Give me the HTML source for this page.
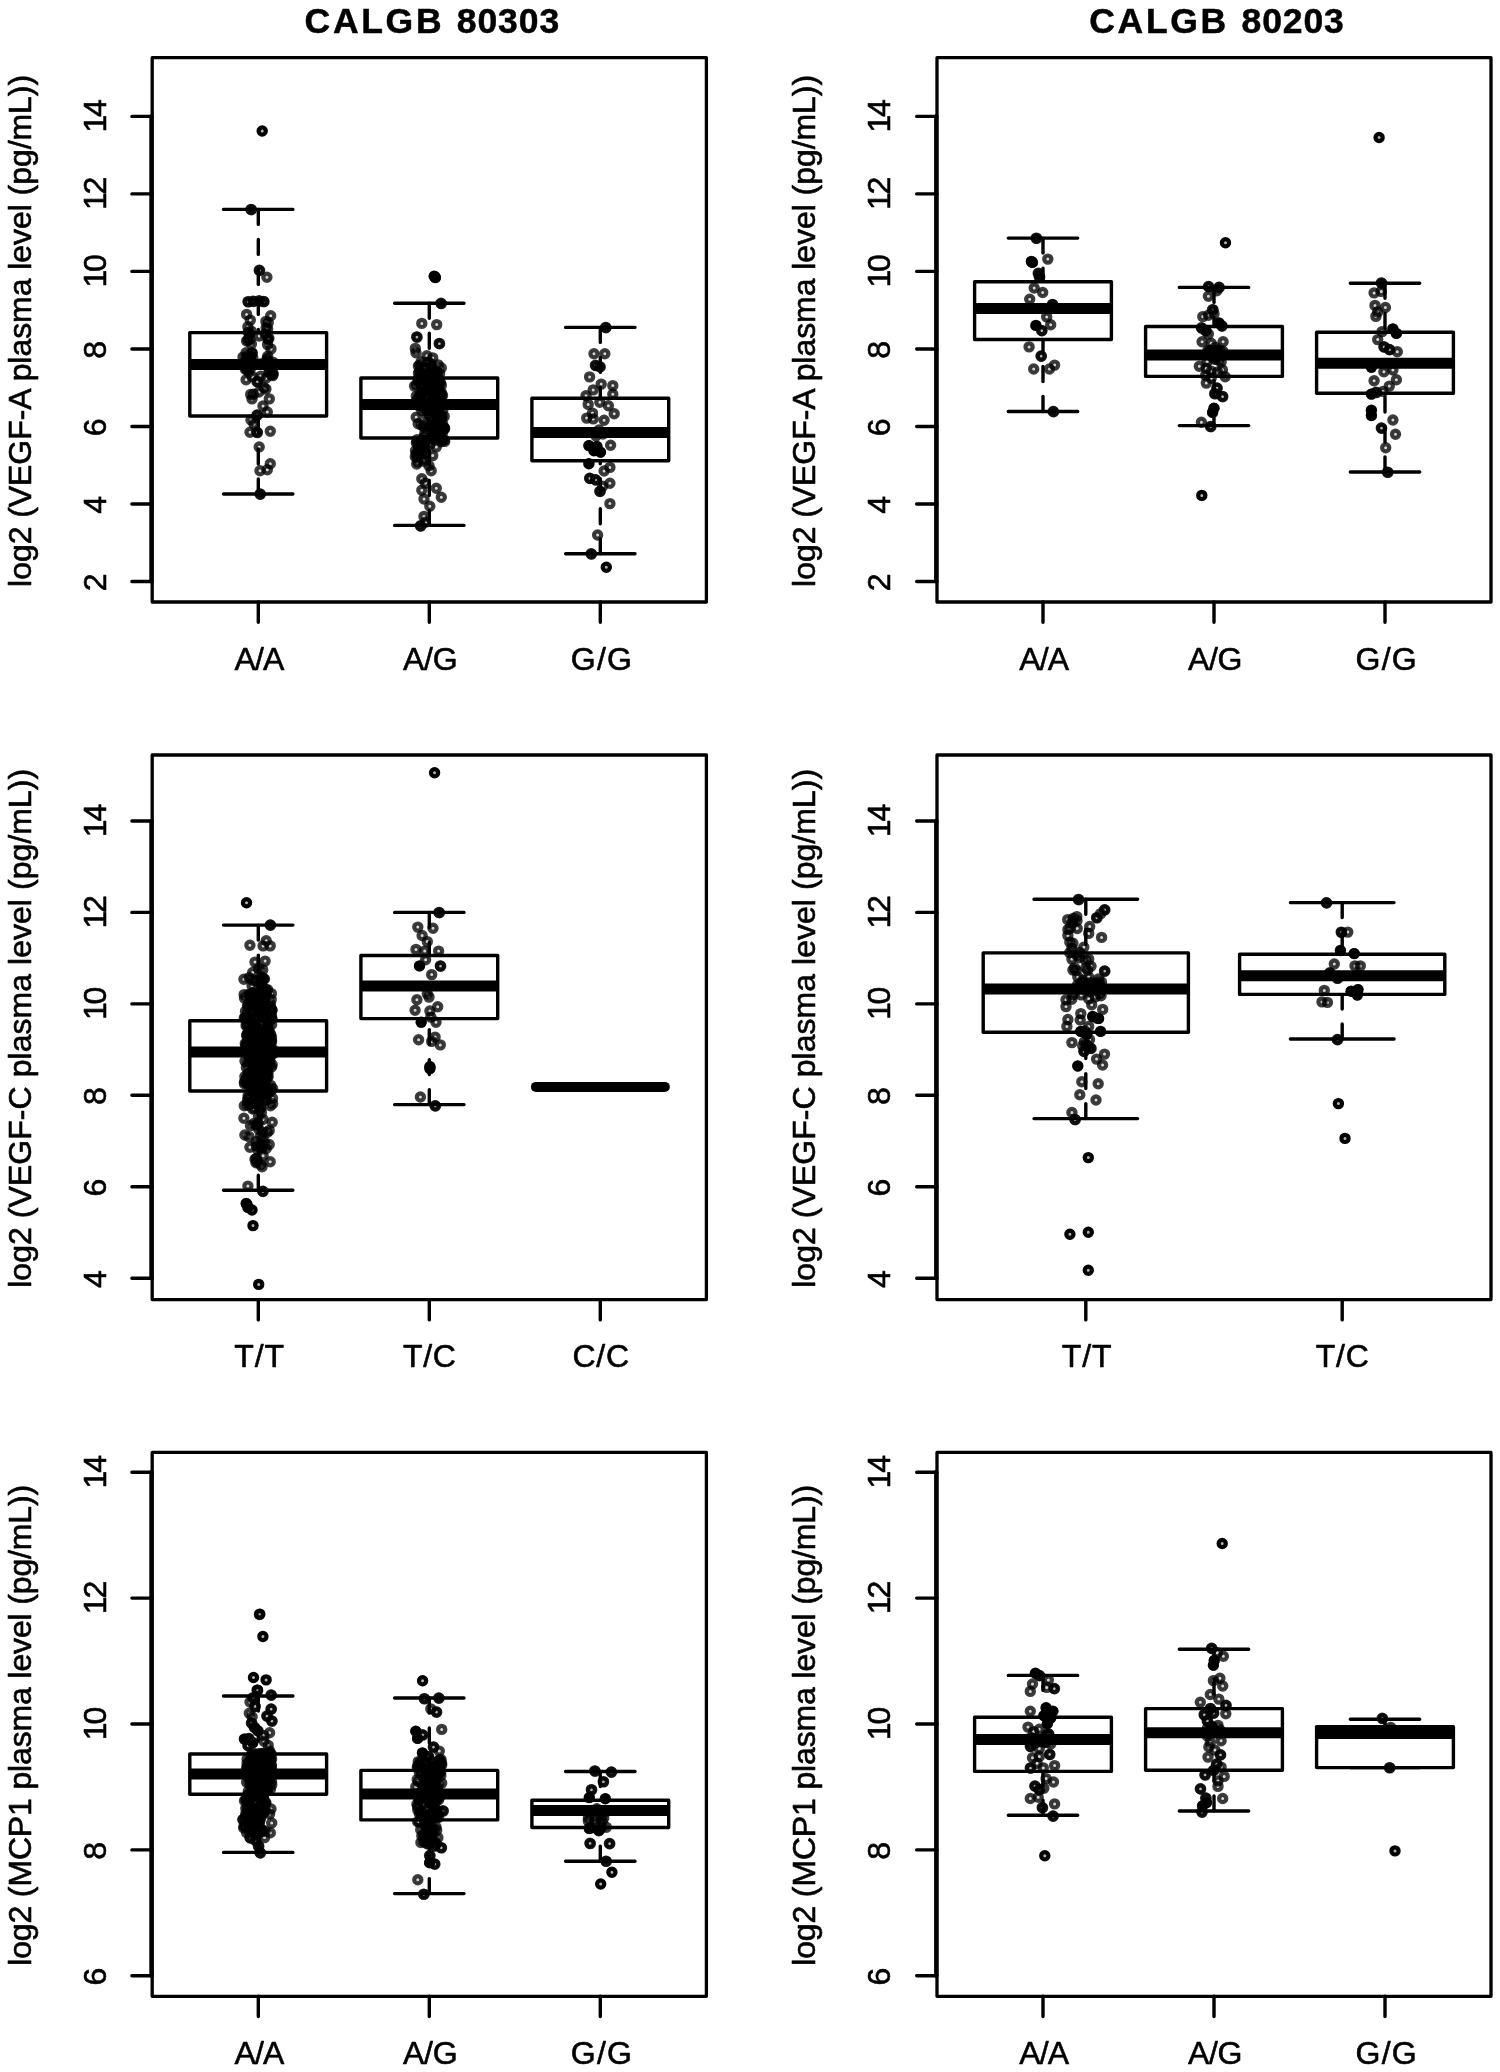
<!DOCTYPE html>
<html><head><meta charset="utf-8"><title>CALGB boxplots</title>
<style>
html,body{margin:0;padding:0;background:#fff;}
body{width:1500px;height:2072px;overflow:hidden;font-family:"Liberation Sans",sans-serif;}
svg{display:block;}
</style></head><body>
<svg width="1500" height="2072" viewBox="0 0 1500 2072">
<defs><filter id="b" x="0" y="0" width="1500" height="2072" filterUnits="userSpaceOnUse"><feGaussianBlur stdDeviation="0.78"/></filter></defs>
<rect width="1500" height="2072" fill="#fff"/>
<g filter="url(#b)">
<g font-family="Liberation Sans, sans-serif" font-size="32" fill="#000" stroke="#000" stroke-width="0.6" stroke-linejoin="round">
<text x="432.3" y="33.2" text-anchor="middle" font-weight="bold" font-size="35.5" stroke-width="0.5"><tspan letter-spacing="2.7">CALGB </tspan><tspan letter-spacing="0.9">80303</tspan></text>
<text transform="translate(30.6,330.9) rotate(-90)" text-anchor="middle" textLength="512" lengthAdjust="spacing">log2 (VEGF-A plasma level (pg/mL))</text>
<text transform="translate(105.6,582.4) rotate(-90)" text-anchor="middle">2</text>
<text transform="translate(105.6,504.9) rotate(-90)" text-anchor="middle">4</text>
<text transform="translate(105.6,427.4) rotate(-90)" text-anchor="middle">6</text>
<text transform="translate(105.6,349.9) rotate(-90)" text-anchor="middle">8</text>
<text transform="translate(105.6,271.9) rotate(-90)" text-anchor="middle" letter-spacing="-2.1">10</text>
<text transform="translate(105.6,194.4) rotate(-90)" text-anchor="middle" letter-spacing="-2.1">12</text>
<text transform="translate(105.6,116.9) rotate(-90)" text-anchor="middle" letter-spacing="-2.1">14</text>
<text x="259.0" y="669.8" text-anchor="middle" letter-spacing="-0.9">A/A</text>
<text x="430.2" y="669.8" text-anchor="middle" letter-spacing="-0.3">A/G</text>
<text x="602.0" y="669.8" text-anchor="middle" letter-spacing="1.2">G/G</text>
<text x="1217.0" y="33.2" text-anchor="middle" font-weight="bold" font-size="35.5" stroke-width="0.5"><tspan letter-spacing="2.7">CALGB </tspan><tspan letter-spacing="0.9">80203</tspan></text>
<text transform="translate(815.4,330.9) rotate(-90)" text-anchor="middle" textLength="512" lengthAdjust="spacing">log2 (VEGF-A plasma level (pg/mL))</text>
<text transform="translate(890.4,582.4) rotate(-90)" text-anchor="middle">2</text>
<text transform="translate(890.4,504.9) rotate(-90)" text-anchor="middle">4</text>
<text transform="translate(890.4,427.4) rotate(-90)" text-anchor="middle">6</text>
<text transform="translate(890.4,349.9) rotate(-90)" text-anchor="middle">8</text>
<text transform="translate(890.4,271.9) rotate(-90)" text-anchor="middle" letter-spacing="-2.1">10</text>
<text transform="translate(890.4,194.4) rotate(-90)" text-anchor="middle" letter-spacing="-2.1">12</text>
<text transform="translate(890.4,116.9) rotate(-90)" text-anchor="middle" letter-spacing="-2.1">14</text>
<text x="1043.8" y="669.8" text-anchor="middle" letter-spacing="-0.9">A/A</text>
<text x="1215.0" y="669.8" text-anchor="middle" letter-spacing="-0.3">A/G</text>
<text x="1386.7" y="669.8" text-anchor="middle" letter-spacing="1.2">G/G</text>
<text transform="translate(30.6,1028.3) rotate(-90)" text-anchor="middle" textLength="519" lengthAdjust="spacing">log2 (VEGF-C plasma level (pg/mL))</text>
<text transform="translate(105.6,1279.1) rotate(-90)" text-anchor="middle">4</text>
<text transform="translate(105.6,1187.7) rotate(-90)" text-anchor="middle">6</text>
<text transform="translate(105.6,1096.2) rotate(-90)" text-anchor="middle">8</text>
<text transform="translate(105.6,1004.4) rotate(-90)" text-anchor="middle" letter-spacing="-2.1">10</text>
<text transform="translate(105.6,912.9) rotate(-90)" text-anchor="middle" letter-spacing="-2.1">12</text>
<text transform="translate(105.6,821.5) rotate(-90)" text-anchor="middle" letter-spacing="-2.1">14</text>
<text x="259.6" y="1367.4" text-anchor="middle" letter-spacing="0.9">T/T</text>
<text x="429.8" y="1367.4" text-anchor="middle" letter-spacing="0.7">T/C</text>
<text x="601.2" y="1367.4" text-anchor="middle" letter-spacing="0.8">C/C</text>
<text transform="translate(815.4,1028.3) rotate(-90)" text-anchor="middle" textLength="519" lengthAdjust="spacing">log2 (VEGF-C plasma level (pg/mL))</text>
<text transform="translate(890.4,1279.1) rotate(-90)" text-anchor="middle">4</text>
<text transform="translate(890.4,1187.7) rotate(-90)" text-anchor="middle">6</text>
<text transform="translate(890.4,1096.2) rotate(-90)" text-anchor="middle">8</text>
<text transform="translate(890.4,1004.4) rotate(-90)" text-anchor="middle" letter-spacing="-2.1">10</text>
<text transform="translate(890.4,912.9) rotate(-90)" text-anchor="middle" letter-spacing="-2.1">12</text>
<text transform="translate(890.4,821.5) rotate(-90)" text-anchor="middle" letter-spacing="-2.1">14</text>
<text x="1087.1" y="1367.4" text-anchor="middle" letter-spacing="0.9">T/T</text>
<text x="1342.7" y="1367.4" text-anchor="middle" letter-spacing="0.7">T/C</text>
<text transform="translate(30.6,1725.3) rotate(-90)" text-anchor="middle" textLength="481" lengthAdjust="spacing">log2 (MCP1 plasma level (pg/mL))</text>
<text transform="translate(105.6,1976.7) rotate(-90)" text-anchor="middle">6</text>
<text transform="translate(105.6,1850.8) rotate(-90)" text-anchor="middle">8</text>
<text transform="translate(105.6,1724.5) rotate(-90)" text-anchor="middle" letter-spacing="-2.1">10</text>
<text transform="translate(105.6,1598.6) rotate(-90)" text-anchor="middle" letter-spacing="-2.1">12</text>
<text transform="translate(105.6,1472.7) rotate(-90)" text-anchor="middle" letter-spacing="-2.1">14</text>
<text x="259.0" y="2064.1" text-anchor="middle" letter-spacing="-0.9">A/A</text>
<text x="430.2" y="2064.1" text-anchor="middle" letter-spacing="-0.3">A/G</text>
<text x="602.0" y="2064.1" text-anchor="middle" letter-spacing="1.2">G/G</text>
<text transform="translate(815.4,1725.3) rotate(-90)" text-anchor="middle" textLength="481" lengthAdjust="spacing">log2 (MCP1 plasma level (pg/mL))</text>
<text transform="translate(890.4,1976.7) rotate(-90)" text-anchor="middle">6</text>
<text transform="translate(890.4,1850.8) rotate(-90)" text-anchor="middle">8</text>
<text transform="translate(890.4,1724.5) rotate(-90)" text-anchor="middle" letter-spacing="-2.1">10</text>
<text transform="translate(890.4,1598.6) rotate(-90)" text-anchor="middle" letter-spacing="-2.1">12</text>
<text transform="translate(890.4,1472.7) rotate(-90)" text-anchor="middle" letter-spacing="-2.1">14</text>
<text x="1043.8" y="2064.1" text-anchor="middle" letter-spacing="-0.9">A/A</text>
<text x="1215.0" y="2064.1" text-anchor="middle" letter-spacing="-0.3">A/G</text>
<text x="1386.7" y="2064.1" text-anchor="middle" letter-spacing="1.2">G/G</text>
</g>
<g fill="none" stroke="#000" stroke-width="3.4" stroke-linecap="round" stroke-linejoin="round">
<rect x="152.2" y="57.7" width="554.2" height="544.3" stroke-width="3.3"/>
<path d="M152.2 581.5h-20.3M152.2 504.0h-20.3M152.2 426.5h-20.3M152.2 349.0h-20.3M152.2 271.4h-20.3M152.2 193.9h-20.3M152.2 116.4h-20.3M258.3 602.0v20.3M429.3 602.0v20.3M600.3 602.0v20.3" stroke-width="3.4"/>
<path d="M151.4 116.4V581.5" stroke-width="4.2"/>
<path d="M258.3 209.4V332.6M258.3 494.0V416.0" stroke-dasharray="15 15"/>
<path d="M223.5 209.4h69.4M223.5 494.0h69.4"/>
<rect x="189.8" y="332.6" width="136.8" height="83.4" fill="#fff"/>
<path d="M189.8 364.4h136.8" stroke-width="11.0" stroke-linecap="butt"/>
<path d="M429.3 303.3V378.0M429.3 525.4V438.0" stroke-dasharray="15 15"/>
<path d="M394.6 303.3h69.4M394.6 525.4h69.4"/>
<rect x="360.9" y="378.0" width="136.8" height="60.0" fill="#fff"/>
<path d="M360.9 404.6h136.8" stroke-width="11.0" stroke-linecap="butt"/>
<path d="M600.3 327.4V398.3M600.3 553.8V460.8" stroke-dasharray="15 15"/>
<path d="M565.6 327.4h69.4M565.6 553.8h69.4"/>
<rect x="531.9" y="398.3" width="136.8" height="62.5" fill="#fff"/>
<path d="M531.9 432.6h136.8" stroke-width="11.0" stroke-linecap="butt"/>
<rect x="937.0" y="57.7" width="554.0" height="544.3" stroke-width="3.3"/>
<path d="M937.0 581.5h-20.3M937.0 504.0h-20.3M937.0 426.5h-20.3M937.0 349.0h-20.3M937.0 271.4h-20.3M937.0 193.9h-20.3M937.0 116.4h-20.3M1043.0 602.0v20.3M1214.0 602.0v20.3M1385.0 602.0v20.3" stroke-width="3.4"/>
<path d="M936.2 116.4V581.5" stroke-width="4.2"/>
<path d="M1043.0 238.1V281.8M1043.0 411.5V339.5" stroke-dasharray="15 15"/>
<path d="M1008.3 238.1h69.4M1008.3 411.5h69.4"/>
<rect x="974.6" y="281.8" width="136.8" height="57.7" fill="#fff"/>
<path d="M974.6 308.5h136.8" stroke-width="11.0" stroke-linecap="butt"/>
<path d="M1214.0 287.4V326.5M1214.0 425.6V376.4" stroke-dasharray="15 15"/>
<path d="M1179.3 287.4h69.4M1179.3 425.6h69.4"/>
<rect x="1145.6" y="326.5" width="136.8" height="49.9" fill="#fff"/>
<path d="M1145.6 355.0h136.8" stroke-width="11.0" stroke-linecap="butt"/>
<path d="M1385.0 283.2V332.3M1385.0 472.0V393.3" stroke-dasharray="15 15"/>
<path d="M1350.3 283.2h69.4M1350.3 472.0h69.4"/>
<rect x="1316.6" y="332.3" width="136.8" height="61.0" fill="#fff"/>
<path d="M1316.6 363.3h136.8" stroke-width="11.0" stroke-linecap="butt"/>
<rect x="152.2" y="755.0" width="554.2" height="544.6" stroke-width="3.3"/>
<path d="M152.2 1278.2h-20.3M152.2 1186.8h-20.3M152.2 1095.3h-20.3M152.2 1003.9h-20.3M152.2 912.4h-20.3M152.2 821.0h-20.3M258.3 1299.6v20.3M429.3 1299.6v20.3M600.3 1299.6v20.3" stroke-width="3.4"/>
<path d="M151.4 821.0V1278.2" stroke-width="4.2"/>
<path d="M258.3 925.1V1020.8M258.3 1190.2V1091.0" stroke-dasharray="15 15"/>
<path d="M223.5 925.1h69.4M223.5 1190.2h69.4"/>
<rect x="189.8" y="1020.8" width="136.8" height="70.2" fill="#fff"/>
<path d="M189.8 1052.0h136.8" stroke-width="11.0" stroke-linecap="butt"/>
<path d="M429.3 912.4V955.5M429.3 1104.6V1018.6" stroke-dasharray="15 15"/>
<path d="M394.6 912.4h69.4M394.6 1104.6h69.4"/>
<rect x="360.9" y="955.5" width="136.8" height="63.1" fill="#fff"/>
<path d="M360.9 985.9h136.8" stroke-width="11.0" stroke-linecap="butt"/>
<path d="M535.9 1086.9H664.8" stroke-width="10"/>
<rect x="937.0" y="755.0" width="554.0" height="544.6" stroke-width="3.3"/>
<path d="M937.0 1278.2h-20.3M937.0 1186.8h-20.3M937.0 1095.3h-20.3M937.0 1003.9h-20.3M937.0 912.4h-20.3M937.0 821.0h-20.3M1085.8 1299.6v20.3M1342.2 1299.6v20.3" stroke-width="3.4"/>
<path d="M936.2 821.0V1278.2" stroke-width="4.2"/>
<path d="M1085.8 899.3V952.9M1085.8 1118.6V1032.2" stroke-dasharray="15 15"/>
<path d="M1034.0 899.3h103.6M1034.0 1118.6h103.6"/>
<rect x="983.2" y="952.9" width="205.2" height="79.3" fill="#fff"/>
<path d="M983.2 988.9h205.2" stroke-width="11.0" stroke-linecap="butt"/>
<path d="M1342.2 902.6V954.2M1342.2 1039.0V994.4" stroke-dasharray="15 15"/>
<path d="M1290.4 902.6h103.6M1290.4 1039.0h103.6"/>
<rect x="1239.6" y="954.2" width="205.2" height="40.2" fill="#fff"/>
<path d="M1239.6 975.8h205.2" stroke-width="11.0" stroke-linecap="butt"/>
<rect x="152.2" y="1452.4" width="554.2" height="543.9" stroke-width="3.3"/>
<path d="M152.2 1975.8h-20.3M152.2 1849.9h-20.3M152.2 1724.0h-20.3M152.2 1598.1h-20.3M152.2 1472.2h-20.3M258.3 1996.3v20.3M429.3 1996.3v20.3M600.3 1996.3v20.3" stroke-width="3.4"/>
<path d="M151.4 1472.2V1975.8" stroke-width="4.2"/>
<path d="M258.3 1696.0V1754.0M258.3 1852.4V1794.3" stroke-dasharray="15 15"/>
<path d="M223.5 1696.0h69.4M223.5 1852.4h69.4"/>
<rect x="189.8" y="1754.0" width="136.8" height="40.3" fill="#fff"/>
<path d="M189.8 1774.0h136.8" stroke-width="11.0" stroke-linecap="butt"/>
<path d="M429.3 1698.0V1770.4M429.3 1893.6V1819.9" stroke-dasharray="15 15"/>
<path d="M394.6 1698.0h69.4M394.6 1893.6h69.4"/>
<rect x="360.9" y="1770.4" width="136.8" height="49.5" fill="#fff"/>
<path d="M360.9 1793.9h136.8" stroke-width="11.0" stroke-linecap="butt"/>
<path d="M600.3 1771.5V1800.3M600.3 1861.2V1827.5" stroke-dasharray="15 15"/>
<path d="M565.6 1771.5h69.4M565.6 1861.2h69.4"/>
<rect x="531.9" y="1800.3" width="136.8" height="27.2" fill="#fff"/>
<path d="M531.9 1810.6h136.8" stroke-width="11.0" stroke-linecap="butt"/>
<rect x="937.0" y="1452.4" width="554.0" height="543.9" stroke-width="3.3"/>
<path d="M937.0 1975.8h-20.3M937.0 1849.9h-20.3M937.0 1724.0h-20.3M937.0 1598.1h-20.3M937.0 1472.2h-20.3M1043.0 1996.3v20.3M1214.0 1996.3v20.3M1385.0 1996.3v20.3" stroke-width="3.4"/>
<path d="M936.2 1472.2V1975.8" stroke-width="4.2"/>
<path d="M1043.0 1675.4V1717.3M1043.0 1815.3V1771.4" stroke-dasharray="15 15"/>
<path d="M1008.3 1675.4h69.4M1008.3 1815.3h69.4"/>
<rect x="974.6" y="1717.3" width="136.8" height="54.1" fill="#fff"/>
<path d="M974.6 1739.4h136.8" stroke-width="11.0" stroke-linecap="butt"/>
<path d="M1214.0 1649.3V1708.6M1214.0 1811.0V1770.3" stroke-dasharray="15 15"/>
<path d="M1179.3 1649.3h69.4M1179.3 1811.0h69.4"/>
<rect x="1145.6" y="1708.6" width="136.8" height="61.7" fill="#fff"/>
<path d="M1145.6 1732.7h136.8" stroke-width="11.0" stroke-linecap="butt"/>
<path d="M1385.0 1719.2V1726.8M1385.0 1767.6V1767.6" stroke-dasharray="15 15"/>
<path d="M1350.3 1719.2h69.4M1350.3 1767.6h69.4"/>
<rect x="1316.6" y="1726.8" width="136.8" height="40.8" fill="#fff"/>
<path d="M1316.6 1733.6h136.8" stroke-width="11.0" stroke-linecap="butt"/>
</g>
<g fill="rgba(0,0,0,0.16)" stroke="rgba(0,0,0,0.76)" stroke-width="4.2">
<circle cx="251.0" cy="209.4" r="3.6"/>
<circle cx="251.4" cy="209.7" r="3.6"/>
<circle cx="259.2" cy="270.2" r="3.6"/>
<circle cx="259.6" cy="270.5" r="3.6"/>
<circle cx="266.9" cy="277.3" r="3.6"/>
<circle cx="248.0" cy="301.6" r="3.6"/>
<circle cx="248.4" cy="301.9" r="3.6"/>
<circle cx="253.0" cy="301.2" r="3.6"/>
<circle cx="253.4" cy="301.5" r="3.6"/>
<circle cx="259.0" cy="300.8" r="3.6"/>
<circle cx="259.4" cy="301.1" r="3.6"/>
<circle cx="263.6" cy="301.4" r="3.6"/>
<circle cx="264.0" cy="301.7" r="3.6"/>
<circle cx="246.6" cy="314.4" r="3.6"/>
<circle cx="270.7" cy="315.8" r="3.6"/>
<circle cx="259.2" cy="336.0" r="3.6"/>
<circle cx="246.6" cy="341.0" r="3.6"/>
<circle cx="257.0" cy="381.7" r="3.6"/>
<circle cx="264.0" cy="387.7" r="3.6"/>
<circle cx="259.0" cy="392.0" r="3.6"/>
<circle cx="252.0" cy="398.9" r="3.6"/>
<circle cx="269.3" cy="398.9" r="3.6"/>
<circle cx="263.0" cy="406.0" r="3.6"/>
<circle cx="267.3" cy="412.0" r="3.6"/>
<circle cx="257.0" cy="415.0" r="3.6"/>
<circle cx="257.4" cy="415.3" r="3.6"/>
<circle cx="251.0" cy="420.0" r="3.6"/>
<circle cx="254.0" cy="424.0" r="3.6"/>
<circle cx="250.0" cy="432.3" r="3.6"/>
<circle cx="257.0" cy="432.3" r="3.6"/>
<circle cx="257.4" cy="432.6" r="3.6"/>
<circle cx="270.3" cy="431.3" r="3.6"/>
<circle cx="259.2" cy="447.0" r="3.6"/>
<circle cx="270.3" cy="463.7" r="3.6"/>
<circle cx="267.3" cy="469.8" r="3.6"/>
<circle cx="260.0" cy="470.8" r="3.6"/>
<circle cx="260.0" cy="494.0" r="3.6"/>
<circle cx="260.4" cy="494.3" r="3.6"/>
<circle cx="249.3" cy="333.6" r="3.6"/>
<circle cx="251.2" cy="331.1" r="3.6"/>
<circle cx="249.5" cy="334.3" r="3.6"/>
<circle cx="248.2" cy="332.3" r="3.6"/>
<circle cx="250.0" cy="339.6" r="3.6"/>
<circle cx="247.9" cy="326.9" r="3.6"/>
<circle cx="247.9" cy="340.1" r="3.6"/>
<circle cx="250.3" cy="320.1" r="3.6"/>
<circle cx="251.4" cy="344.1" r="3.6"/>
<circle cx="268.9" cy="338.2" r="3.6"/>
<circle cx="265.9" cy="321.4" r="3.6"/>
<circle cx="268.2" cy="322.7" r="3.6"/>
<circle cx="266.1" cy="327.8" r="3.6"/>
<circle cx="265.2" cy="334.0" r="3.6"/>
<circle cx="267.6" cy="344.6" r="3.6"/>
<circle cx="268.1" cy="338.9" r="3.6"/>
<circle cx="268.0" cy="339.5" r="3.6"/>
<circle cx="267.7" cy="328.8" r="3.6"/>
<circle cx="271.0" cy="348.9" r="3.6"/>
<circle cx="269.0" cy="371.5" r="3.6"/>
<circle cx="252.8" cy="357.7" r="3.6"/>
<circle cx="252.0" cy="353.0" r="3.6"/>
<circle cx="266.8" cy="362.6" r="3.6"/>
<circle cx="269.2" cy="362.2" r="3.6"/>
<circle cx="272.7" cy="375.6" r="3.6"/>
<circle cx="243.0" cy="357.1" r="3.6"/>
<circle cx="271.2" cy="364.6" r="3.6"/>
<circle cx="273.4" cy="362.5" r="3.6"/>
<circle cx="245.3" cy="369.3" r="3.6"/>
<circle cx="267.1" cy="358.8" r="3.6"/>
<circle cx="245.7" cy="360.6" r="3.6"/>
<circle cx="272.9" cy="373.0" r="3.6"/>
<circle cx="246.7" cy="358.1" r="3.6"/>
<circle cx="246.1" cy="352.7" r="3.6"/>
<circle cx="267.7" cy="356.2" r="3.6"/>
<circle cx="260.3" cy="364.0" r="3.6"/>
<circle cx="248.9" cy="372.2" r="3.6"/>
<circle cx="247.1" cy="369.7" r="3.6"/>
<circle cx="246.6" cy="363.2" r="3.6"/>
<circle cx="249.6" cy="358.8" r="3.6"/>
<circle cx="273.1" cy="374.3" r="3.6"/>
<circle cx="252.4" cy="376.7" r="3.6"/>
<circle cx="249.5" cy="362.4" r="3.6"/>
<circle cx="269.5" cy="369.6" r="3.6"/>
<circle cx="246.1" cy="379.7" r="3.6"/>
<circle cx="249.6" cy="358.5" r="3.6"/>
<circle cx="267.0" cy="360.5" r="3.6"/>
<circle cx="252.2" cy="353.1" r="3.6"/>
<circle cx="245.8" cy="367.9" r="3.6"/>
<circle cx="250.5" cy="368.4" r="3.6"/>
<circle cx="254.5" cy="364.1" r="3.6"/>
<circle cx="272.7" cy="365.0" r="3.6"/>
<circle cx="260.8" cy="376.1" r="3.6"/>
<circle cx="248.7" cy="355.5" r="3.6"/>
<circle cx="271.2" cy="374.7" r="3.6"/>
<circle cx="250.7" cy="356.5" r="3.6"/>
<circle cx="265.9" cy="378.3" r="3.6"/>
<circle cx="253.5" cy="394.3" r="3.6"/>
<circle cx="265.9" cy="389.1" r="3.6"/>
<circle cx="257.6" cy="381.6" r="3.6"/>
<circle cx="250.7" cy="394.4" r="3.6"/>
<circle cx="434.2" cy="276.2" r="3.6"/>
<circle cx="435.4" cy="277.6" r="3.6"/>
<circle cx="440.9" cy="303.3" r="3.6"/>
<circle cx="441.3" cy="303.6" r="3.6"/>
<circle cx="421.8" cy="323.4" r="3.6"/>
<circle cx="436.7" cy="324.6" r="3.6"/>
<circle cx="416.7" cy="336.9" r="3.6"/>
<circle cx="417.1" cy="337.2" r="3.6"/>
<circle cx="439.2" cy="343.4" r="3.6"/>
<circle cx="439.6" cy="343.7" r="3.6"/>
<circle cx="415.3" cy="348.4" r="3.6"/>
<circle cx="416.0" cy="352.8" r="3.6"/>
<circle cx="426.9" cy="355.7" r="3.6"/>
<circle cx="432.7" cy="357.9" r="3.6"/>
<circle cx="441.3" cy="368.0" r="3.6"/>
<circle cx="414.6" cy="386.1" r="3.6"/>
<circle cx="441.3" cy="385.4" r="3.6"/>
<circle cx="441.3" cy="392.6" r="3.6"/>
<circle cx="418.2" cy="423.7" r="3.6"/>
<circle cx="424.7" cy="433.9" r="3.6"/>
<circle cx="441.3" cy="441.8" r="3.6"/>
<circle cx="436.3" cy="446.9" r="3.6"/>
<circle cx="429.8" cy="444.7" r="3.6"/>
<circle cx="432.7" cy="455.6" r="3.6"/>
<circle cx="429.0" cy="465.7" r="3.6"/>
<circle cx="431.2" cy="470.8" r="3.6"/>
<circle cx="421.8" cy="478.8" r="3.6"/>
<circle cx="425.4" cy="483.1" r="3.6"/>
<circle cx="421.8" cy="490.3" r="3.6"/>
<circle cx="436.3" cy="488.2" r="3.6"/>
<circle cx="424.0" cy="499.0" r="3.6"/>
<circle cx="441.3" cy="497.3" r="3.6"/>
<circle cx="429.8" cy="506.3" r="3.6"/>
<circle cx="424.0" cy="516.4" r="3.6"/>
<circle cx="425.4" cy="522.2" r="3.6"/>
<circle cx="420.4" cy="525.8" r="3.6"/>
<circle cx="420.8" cy="526.1" r="3.6"/>
<circle cx="423.2" cy="374.4" r="3.6"/>
<circle cx="423.7" cy="376.7" r="3.6"/>
<circle cx="431.1" cy="366.6" r="3.6"/>
<circle cx="421.9" cy="374.7" r="3.6"/>
<circle cx="419.5" cy="365.3" r="3.6"/>
<circle cx="430.3" cy="377.2" r="3.6"/>
<circle cx="431.5" cy="366.3" r="3.6"/>
<circle cx="438.2" cy="364.9" r="3.6"/>
<circle cx="418.4" cy="366.1" r="3.6"/>
<circle cx="427.8" cy="362.1" r="3.6"/>
<circle cx="421.9" cy="368.0" r="3.6"/>
<circle cx="430.6" cy="363.5" r="3.6"/>
<circle cx="426.0" cy="377.9" r="3.6"/>
<circle cx="439.6" cy="373.5" r="3.6"/>
<circle cx="433.2" cy="372.1" r="3.6"/>
<circle cx="421.1" cy="361.7" r="3.6"/>
<circle cx="418.4" cy="378.3" r="3.6"/>
<circle cx="433.4" cy="379.3" r="3.6"/>
<circle cx="418.5" cy="373.1" r="3.6"/>
<circle cx="428.6" cy="374.9" r="3.6"/>
<circle cx="425.0" cy="380.0" r="3.6"/>
<circle cx="419.7" cy="371.4" r="3.6"/>
<circle cx="434.2" cy="378.1" r="3.6"/>
<circle cx="434.2" cy="374.4" r="3.6"/>
<circle cx="435.5" cy="378.4" r="3.6"/>
<circle cx="425.7" cy="374.0" r="3.6"/>
<circle cx="437.8" cy="377.6" r="3.6"/>
<circle cx="427.2" cy="376.0" r="3.6"/>
<circle cx="437.0" cy="371.9" r="3.6"/>
<circle cx="431.7" cy="368.3" r="3.6"/>
<circle cx="431.7" cy="400.7" r="3.6"/>
<circle cx="418.2" cy="401.7" r="3.6"/>
<circle cx="442.8" cy="409.9" r="3.6"/>
<circle cx="435.7" cy="393.2" r="3.6"/>
<circle cx="435.8" cy="399.8" r="3.6"/>
<circle cx="427.9" cy="408.5" r="3.6"/>
<circle cx="418.3" cy="405.5" r="3.6"/>
<circle cx="416.8" cy="400.4" r="3.6"/>
<circle cx="429.0" cy="387.8" r="3.6"/>
<circle cx="434.9" cy="396.9" r="3.6"/>
<circle cx="432.6" cy="411.3" r="3.6"/>
<circle cx="422.9" cy="380.4" r="3.6"/>
<circle cx="424.1" cy="403.1" r="3.6"/>
<circle cx="421.5" cy="385.8" r="3.6"/>
<circle cx="440.5" cy="402.4" r="3.6"/>
<circle cx="427.9" cy="410.3" r="3.6"/>
<circle cx="424.8" cy="402.6" r="3.6"/>
<circle cx="421.4" cy="394.7" r="3.6"/>
<circle cx="437.8" cy="411.1" r="3.6"/>
<circle cx="439.8" cy="393.1" r="3.6"/>
<circle cx="431.7" cy="390.8" r="3.6"/>
<circle cx="419.7" cy="396.9" r="3.6"/>
<circle cx="438.6" cy="408.9" r="3.6"/>
<circle cx="435.2" cy="412.3" r="3.6"/>
<circle cx="423.5" cy="385.8" r="3.6"/>
<circle cx="428.2" cy="389.4" r="3.6"/>
<circle cx="421.8" cy="394.1" r="3.6"/>
<circle cx="432.9" cy="396.8" r="3.6"/>
<circle cx="424.5" cy="408.5" r="3.6"/>
<circle cx="442.5" cy="395.4" r="3.6"/>
<circle cx="418.0" cy="381.1" r="3.6"/>
<circle cx="439.6" cy="381.4" r="3.6"/>
<circle cx="435.1" cy="399.4" r="3.6"/>
<circle cx="424.3" cy="406.9" r="3.6"/>
<circle cx="416.5" cy="384.6" r="3.6"/>
<circle cx="428.3" cy="380.8" r="3.6"/>
<circle cx="438.4" cy="388.1" r="3.6"/>
<circle cx="419.8" cy="381.6" r="3.6"/>
<circle cx="433.0" cy="395.2" r="3.6"/>
<circle cx="433.0" cy="402.3" r="3.6"/>
<circle cx="437.8" cy="412.6" r="3.6"/>
<circle cx="434.5" cy="386.8" r="3.6"/>
<circle cx="428.8" cy="386.1" r="3.6"/>
<circle cx="416.3" cy="396.1" r="3.6"/>
<circle cx="435.3" cy="386.1" r="3.6"/>
<circle cx="423.4" cy="391.8" r="3.6"/>
<circle cx="434.8" cy="397.7" r="3.6"/>
<circle cx="432.6" cy="405.7" r="3.6"/>
<circle cx="426.6" cy="406.9" r="3.6"/>
<circle cx="440.5" cy="383.0" r="3.6"/>
<circle cx="441.2" cy="404.6" r="3.6"/>
<circle cx="419.5" cy="395.4" r="3.6"/>
<circle cx="432.9" cy="410.9" r="3.6"/>
<circle cx="426.2" cy="399.3" r="3.6"/>
<circle cx="439.7" cy="407.1" r="3.6"/>
<circle cx="441.5" cy="395.8" r="3.6"/>
<circle cx="433.6" cy="387.0" r="3.6"/>
<circle cx="435.5" cy="407.8" r="3.6"/>
<circle cx="433.3" cy="404.4" r="3.6"/>
<circle cx="421.8" cy="410.6" r="3.6"/>
<circle cx="444.7" cy="441.4" r="3.6"/>
<circle cx="437.4" cy="436.1" r="3.6"/>
<circle cx="433.8" cy="439.5" r="3.6"/>
<circle cx="442.6" cy="423.8" r="3.6"/>
<circle cx="429.9" cy="426.3" r="3.6"/>
<circle cx="437.6" cy="435.5" r="3.6"/>
<circle cx="436.5" cy="414.8" r="3.6"/>
<circle cx="441.9" cy="415.8" r="3.6"/>
<circle cx="441.7" cy="418.8" r="3.6"/>
<circle cx="434.0" cy="436.1" r="3.6"/>
<circle cx="430.8" cy="418.2" r="3.6"/>
<circle cx="437.0" cy="434.3" r="3.6"/>
<circle cx="442.4" cy="433.3" r="3.6"/>
<circle cx="444.1" cy="427.8" r="3.6"/>
<circle cx="444.2" cy="416.4" r="3.6"/>
<circle cx="432.2" cy="428.7" r="3.6"/>
<circle cx="433.3" cy="434.4" r="3.6"/>
<circle cx="439.0" cy="428.6" r="3.6"/>
<circle cx="442.4" cy="429.7" r="3.6"/>
<circle cx="433.6" cy="424.7" r="3.6"/>
<circle cx="442.4" cy="439.2" r="3.6"/>
<circle cx="431.9" cy="437.8" r="3.6"/>
<circle cx="444.5" cy="428.7" r="3.6"/>
<circle cx="438.0" cy="419.6" r="3.6"/>
<circle cx="437.3" cy="428.1" r="3.6"/>
<circle cx="438.5" cy="414.8" r="3.6"/>
<circle cx="444.5" cy="428.4" r="3.6"/>
<circle cx="435.1" cy="436.4" r="3.6"/>
<circle cx="437.8" cy="427.7" r="3.6"/>
<circle cx="439.9" cy="415.8" r="3.6"/>
<circle cx="437.4" cy="425.6" r="3.6"/>
<circle cx="444.3" cy="439.9" r="3.6"/>
<circle cx="432.9" cy="427.2" r="3.6"/>
<circle cx="430.6" cy="426.1" r="3.6"/>
<circle cx="424.2" cy="461.3" r="3.6"/>
<circle cx="420.0" cy="445.6" r="3.6"/>
<circle cx="416.4" cy="453.7" r="3.6"/>
<circle cx="425.6" cy="440.5" r="3.6"/>
<circle cx="423.7" cy="437.6" r="3.6"/>
<circle cx="416.4" cy="443.1" r="3.6"/>
<circle cx="422.6" cy="445.7" r="3.6"/>
<circle cx="418.4" cy="453.7" r="3.6"/>
<circle cx="415.3" cy="456.7" r="3.6"/>
<circle cx="415.5" cy="450.8" r="3.6"/>
<circle cx="417.1" cy="442.3" r="3.6"/>
<circle cx="420.6" cy="448.8" r="3.6"/>
<circle cx="418.7" cy="448.2" r="3.6"/>
<circle cx="420.6" cy="441.3" r="3.6"/>
<circle cx="416.6" cy="454.0" r="3.6"/>
<circle cx="422.0" cy="451.3" r="3.6"/>
<circle cx="424.6" cy="453.5" r="3.6"/>
<circle cx="424.7" cy="443.3" r="3.6"/>
<circle cx="423.3" cy="458.9" r="3.6"/>
<circle cx="425.3" cy="445.5" r="3.6"/>
<circle cx="417.9" cy="461.9" r="3.6"/>
<circle cx="416.7" cy="464.0" r="3.6"/>
<circle cx="425.1" cy="440.6" r="3.6"/>
<circle cx="417.0" cy="456.6" r="3.6"/>
<circle cx="417.2" cy="439.6" r="3.6"/>
<circle cx="424.4" cy="448.4" r="3.6"/>
<circle cx="427.1" cy="416.0" r="3.6"/>
<circle cx="421.6" cy="425.0" r="3.6"/>
<circle cx="416.2" cy="417.2" r="3.6"/>
<circle cx="425.6" cy="428.6" r="3.6"/>
<circle cx="429.6" cy="415.8" r="3.6"/>
<circle cx="423.1" cy="426.1" r="3.6"/>
<circle cx="605.6" cy="327.4" r="3.6"/>
<circle cx="606.0" cy="327.7" r="3.6"/>
<circle cx="594.0" cy="353.7" r="3.6"/>
<circle cx="604.8" cy="353.7" r="3.6"/>
<circle cx="595.4" cy="365.3" r="3.6"/>
<circle cx="595.8" cy="365.6" r="3.6"/>
<circle cx="599.8" cy="366.7" r="3.6"/>
<circle cx="600.2" cy="367.0" r="3.6"/>
<circle cx="589.6" cy="376.9" r="3.6"/>
<circle cx="601.2" cy="384.1" r="3.6"/>
<circle cx="612.8" cy="385.6" r="3.6"/>
<circle cx="593.2" cy="389.9" r="3.6"/>
<circle cx="612.8" cy="394.2" r="3.6"/>
<circle cx="586.0" cy="395.7" r="3.6"/>
<circle cx="588.2" cy="404.4" r="3.6"/>
<circle cx="599.8" cy="402.2" r="3.6"/>
<circle cx="608.4" cy="405.8" r="3.6"/>
<circle cx="614.2" cy="413.8" r="3.6"/>
<circle cx="592.5" cy="413.1" r="3.6"/>
<circle cx="586.7" cy="418.1" r="3.6"/>
<circle cx="593.2" cy="418.9" r="3.6"/>
<circle cx="604.1" cy="420.3" r="3.6"/>
<circle cx="599.0" cy="430.0" r="3.6"/>
<circle cx="603.0" cy="434.0" r="3.6"/>
<circle cx="596.0" cy="436.0" r="3.6"/>
<circle cx="588.9" cy="445.6" r="3.6"/>
<circle cx="596.9" cy="446.4" r="3.6"/>
<circle cx="610.6" cy="445.2" r="3.6"/>
<circle cx="594.0" cy="450.7" r="3.6"/>
<circle cx="600.5" cy="452.2" r="3.6"/>
<circle cx="588.9" cy="463.7" r="3.6"/>
<circle cx="609.9" cy="467.4" r="3.6"/>
<circle cx="604.1" cy="471.0" r="3.6"/>
<circle cx="589.6" cy="478.2" r="3.6"/>
<circle cx="590.0" cy="478.5" r="3.6"/>
<circle cx="595.4" cy="479.7" r="3.6"/>
<circle cx="595.8" cy="480.0" r="3.6"/>
<circle cx="609.9" cy="483.3" r="3.6"/>
<circle cx="602.7" cy="486.2" r="3.6"/>
<circle cx="599.8" cy="491.2" r="3.6"/>
<circle cx="600.2" cy="491.5" r="3.6"/>
<circle cx="609.9" cy="503.6" r="3.6"/>
<circle cx="597.6" cy="535.0" r="3.6"/>
<circle cx="591.1" cy="553.8" r="3.6"/>
<circle cx="591.5" cy="554.1" r="3.6"/>
<circle cx="1036.2" cy="238.1" r="3.6"/>
<circle cx="1036.6" cy="238.4" r="3.6"/>
<circle cx="1047.8" cy="259.1" r="3.6"/>
<circle cx="1031.4" cy="261.4" r="3.6"/>
<circle cx="1032.4" cy="262.4" r="3.6"/>
<circle cx="1038.2" cy="273.3" r="3.6"/>
<circle cx="1038.6" cy="273.6" r="3.6"/>
<circle cx="1039.3" cy="276.7" r="3.6"/>
<circle cx="1039.7" cy="277.0" r="3.6"/>
<circle cx="1034.2" cy="288.0" r="3.6"/>
<circle cx="1042.7" cy="292.5" r="3.6"/>
<circle cx="1029.7" cy="299.3" r="3.6"/>
<circle cx="1052.4" cy="304.4" r="3.6"/>
<circle cx="1052.8" cy="304.7" r="3.6"/>
<circle cx="1046.7" cy="316.9" r="3.6"/>
<circle cx="1035.9" cy="325.4" r="3.6"/>
<circle cx="1050.7" cy="324.8" r="3.6"/>
<circle cx="1041.6" cy="330.5" r="3.6"/>
<circle cx="1042.0" cy="330.8" r="3.6"/>
<circle cx="1029.1" cy="346.9" r="3.6"/>
<circle cx="1041.0" cy="356.0" r="3.6"/>
<circle cx="1041.4" cy="356.3" r="3.6"/>
<circle cx="1033.7" cy="369.0" r="3.6"/>
<circle cx="1049.5" cy="369.0" r="3.6"/>
<circle cx="1054.6" cy="365.1" r="3.6"/>
<circle cx="1053.2" cy="411.5" r="3.6"/>
<circle cx="1053.6" cy="411.8" r="3.6"/>
<circle cx="1208.4" cy="286.5" r="3.6"/>
<circle cx="1208.8" cy="286.8" r="3.6"/>
<circle cx="1218.9" cy="287.2" r="3.6"/>
<circle cx="1219.3" cy="287.5" r="3.6"/>
<circle cx="1216.8" cy="290.7" r="3.6"/>
<circle cx="1208.4" cy="296.3" r="3.6"/>
<circle cx="1212.6" cy="309.6" r="3.6"/>
<circle cx="1213.0" cy="309.9" r="3.6"/>
<circle cx="1202.8" cy="316.6" r="3.6"/>
<circle cx="1208.4" cy="315.2" r="3.6"/>
<circle cx="1214.0" cy="313.8" r="3.6"/>
<circle cx="1219.0" cy="323.0" r="3.6"/>
<circle cx="1222.0" cy="326.0" r="3.6"/>
<circle cx="1201.4" cy="327.8" r="3.6"/>
<circle cx="1201.8" cy="328.1" r="3.6"/>
<circle cx="1205.6" cy="330.6" r="3.6"/>
<circle cx="1206.0" cy="330.9" r="3.6"/>
<circle cx="1208.4" cy="334.1" r="3.6"/>
<circle cx="1202.1" cy="341.8" r="3.6"/>
<circle cx="1211.2" cy="343.2" r="3.6"/>
<circle cx="1223.1" cy="341.8" r="3.6"/>
<circle cx="1215.4" cy="347.4" r="3.6"/>
<circle cx="1219.6" cy="350.2" r="3.6"/>
<circle cx="1199.3" cy="366.3" r="3.6"/>
<circle cx="1206.3" cy="368.4" r="3.6"/>
<circle cx="1211.2" cy="371.2" r="3.6"/>
<circle cx="1222.4" cy="369.8" r="3.6"/>
<circle cx="1217.5" cy="371.9" r="3.6"/>
<circle cx="1225.2" cy="376.8" r="3.6"/>
<circle cx="1205.6" cy="375.4" r="3.6"/>
<circle cx="1211.2" cy="378.2" r="3.6"/>
<circle cx="1206.3" cy="383.1" r="3.6"/>
<circle cx="1216.8" cy="388.0" r="3.6"/>
<circle cx="1217.2" cy="388.3" r="3.6"/>
<circle cx="1214.7" cy="393.6" r="3.6"/>
<circle cx="1215.1" cy="393.9" r="3.6"/>
<circle cx="1222.4" cy="396.4" r="3.6"/>
<circle cx="1222.8" cy="396.7" r="3.6"/>
<circle cx="1214.0" cy="408.2" r="3.6"/>
<circle cx="1212.6" cy="412.4" r="3.6"/>
<circle cx="1201.4" cy="422.2" r="3.6"/>
<circle cx="1210.5" cy="426.4" r="3.6"/>
<circle cx="1210.9" cy="426.7" r="3.6"/>
<circle cx="1215.1" cy="358.2" r="3.6"/>
<circle cx="1209.4" cy="350.8" r="3.6"/>
<circle cx="1207.9" cy="350.4" r="3.6"/>
<circle cx="1215.9" cy="356.2" r="3.6"/>
<circle cx="1216.2" cy="351.8" r="3.6"/>
<circle cx="1209.3" cy="352.4" r="3.6"/>
<circle cx="1221.1" cy="361.9" r="3.6"/>
<circle cx="1222.7" cy="351.1" r="3.6"/>
<circle cx="1207.1" cy="361.4" r="3.6"/>
<circle cx="1214.3" cy="359.2" r="3.6"/>
<circle cx="1211.9" cy="355.6" r="3.6"/>
<circle cx="1215.3" cy="355.2" r="3.6"/>
<circle cx="1216.8" cy="350.2" r="3.6"/>
<circle cx="1218.6" cy="360.1" r="3.6"/>
<circle cx="1381.3" cy="282.9" r="3.6"/>
<circle cx="1381.7" cy="283.2" r="3.6"/>
<circle cx="1374.1" cy="292.9" r="3.6"/>
<circle cx="1381.3" cy="291.4" r="3.6"/>
<circle cx="1375.0" cy="305.4" r="3.6"/>
<circle cx="1385.4" cy="307.5" r="3.6"/>
<circle cx="1377.7" cy="312.0" r="3.6"/>
<circle cx="1375.9" cy="316.4" r="3.6"/>
<circle cx="1382.1" cy="331.6" r="3.6"/>
<circle cx="1392.9" cy="328.9" r="3.6"/>
<circle cx="1396.4" cy="333.4" r="3.6"/>
<circle cx="1377.7" cy="339.6" r="3.6"/>
<circle cx="1383.9" cy="346.8" r="3.6"/>
<circle cx="1384.3" cy="347.1" r="3.6"/>
<circle cx="1389.3" cy="349.5" r="3.6"/>
<circle cx="1389.7" cy="349.8" r="3.6"/>
<circle cx="1397.3" cy="351.8" r="3.6"/>
<circle cx="1371.4" cy="367.3" r="3.6"/>
<circle cx="1383.9" cy="371.8" r="3.6"/>
<circle cx="1392.9" cy="370.0" r="3.6"/>
<circle cx="1374.1" cy="380.7" r="3.6"/>
<circle cx="1396.4" cy="379.8" r="3.6"/>
<circle cx="1389.3" cy="386.1" r="3.6"/>
<circle cx="1383.0" cy="391.4" r="3.6"/>
<circle cx="1371.4" cy="394.1" r="3.6"/>
<circle cx="1375.9" cy="392.3" r="3.6"/>
<circle cx="1376.3" cy="392.6" r="3.6"/>
<circle cx="1371.4" cy="410.2" r="3.6"/>
<circle cx="1371.4" cy="415.5" r="3.6"/>
<circle cx="1392.9" cy="420.0" r="3.6"/>
<circle cx="1381.3" cy="428.0" r="3.6"/>
<circle cx="1381.7" cy="428.3" r="3.6"/>
<circle cx="1395.5" cy="434.3" r="3.6"/>
<circle cx="1385.7" cy="447.7" r="3.6"/>
<circle cx="1387.5" cy="472.1" r="3.6"/>
<circle cx="1387.9" cy="472.4" r="3.6"/>
<circle cx="270.2" cy="925.0" r="3.6"/>
<circle cx="270.6" cy="925.3" r="3.6"/>
<circle cx="249.9" cy="945.3" r="3.6"/>
<circle cx="266.2" cy="940.8" r="3.6"/>
<circle cx="270.2" cy="945.9" r="3.6"/>
<circle cx="263.1" cy="945.9" r="3.6"/>
<circle cx="255.0" cy="962.1" r="3.6"/>
<circle cx="265.1" cy="961.1" r="3.6"/>
<circle cx="243.9" cy="979.3" r="3.6"/>
<circle cx="252.0" cy="985.4" r="3.6"/>
<circle cx="243.9" cy="1118.2" r="3.6"/>
<circle cx="272.2" cy="1122.2" r="3.6"/>
<circle cx="269.2" cy="1130.4" r="3.6"/>
<circle cx="244.9" cy="1135.0" r="3.6"/>
<circle cx="249.9" cy="1147.2" r="3.6"/>
<circle cx="269.2" cy="1144.5" r="3.6"/>
<circle cx="262.1" cy="1147.6" r="3.6"/>
<circle cx="255.0" cy="1159.3" r="3.6"/>
<circle cx="270.2" cy="1161.8" r="3.6"/>
<circle cx="262.1" cy="1166.8" r="3.6"/>
<circle cx="263.1" cy="1155.7" r="3.6"/>
<circle cx="247.9" cy="1186.1" r="3.6"/>
<circle cx="262.7" cy="1191.2" r="3.6"/>
<circle cx="263.1" cy="1191.5" r="3.6"/>
<circle cx="246.2" cy="1203.5" r="3.6"/>
<circle cx="252.4" cy="980.3" r="3.6"/>
<circle cx="263.0" cy="978.9" r="3.6"/>
<circle cx="252.7" cy="972.5" r="3.6"/>
<circle cx="258.7" cy="968.4" r="3.6"/>
<circle cx="266.0" cy="989.6" r="3.6"/>
<circle cx="262.4" cy="991.2" r="3.6"/>
<circle cx="261.0" cy="978.9" r="3.6"/>
<circle cx="260.4" cy="981.6" r="3.6"/>
<circle cx="267.7" cy="989.7" r="3.6"/>
<circle cx="253.9" cy="992.6" r="3.6"/>
<circle cx="263.1" cy="989.0" r="3.6"/>
<circle cx="264.5" cy="979.0" r="3.6"/>
<circle cx="266.0" cy="991.8" r="3.6"/>
<circle cx="262.2" cy="988.7" r="3.6"/>
<circle cx="263.5" cy="979.0" r="3.6"/>
<circle cx="262.7" cy="969.9" r="3.6"/>
<circle cx="255.5" cy="980.7" r="3.6"/>
<circle cx="249.2" cy="977.6" r="3.6"/>
<circle cx="261.1" cy="984.8" r="3.6"/>
<circle cx="253.4" cy="993.5" r="3.6"/>
<circle cx="261.7" cy="977.1" r="3.6"/>
<circle cx="261.5" cy="983.4" r="3.6"/>
<circle cx="258.5" cy="1003.5" r="3.6"/>
<circle cx="272.0" cy="1010.3" r="3.6"/>
<circle cx="263.3" cy="1013.6" r="3.6"/>
<circle cx="271.4" cy="993.6" r="3.6"/>
<circle cx="260.8" cy="1012.9" r="3.6"/>
<circle cx="250.4" cy="1003.8" r="3.6"/>
<circle cx="244.5" cy="998.3" r="3.6"/>
<circle cx="253.9" cy="995.7" r="3.6"/>
<circle cx="250.3" cy="1017.5" r="3.6"/>
<circle cx="259.0" cy="1006.7" r="3.6"/>
<circle cx="271.0" cy="1008.3" r="3.6"/>
<circle cx="271.9" cy="1010.2" r="3.6"/>
<circle cx="266.5" cy="995.1" r="3.6"/>
<circle cx="260.3" cy="1013.5" r="3.6"/>
<circle cx="244.3" cy="1018.1" r="3.6"/>
<circle cx="247.6" cy="1005.7" r="3.6"/>
<circle cx="247.9" cy="1006.4" r="3.6"/>
<circle cx="260.7" cy="994.6" r="3.6"/>
<circle cx="270.4" cy="1004.4" r="3.6"/>
<circle cx="258.3" cy="1009.1" r="3.6"/>
<circle cx="253.6" cy="1000.7" r="3.6"/>
<circle cx="262.0" cy="1008.1" r="3.6"/>
<circle cx="251.2" cy="1012.3" r="3.6"/>
<circle cx="251.6" cy="993.4" r="3.6"/>
<circle cx="250.1" cy="994.2" r="3.6"/>
<circle cx="247.5" cy="1013.4" r="3.6"/>
<circle cx="254.3" cy="1017.2" r="3.6"/>
<circle cx="264.7" cy="994.4" r="3.6"/>
<circle cx="271.7" cy="1018.5" r="3.6"/>
<circle cx="245.1" cy="1017.4" r="3.6"/>
<circle cx="255.5" cy="1005.9" r="3.6"/>
<circle cx="271.2" cy="999.6" r="3.6"/>
<circle cx="258.2" cy="1018.3" r="3.6"/>
<circle cx="264.0" cy="1005.6" r="3.6"/>
<circle cx="271.4" cy="1015.1" r="3.6"/>
<circle cx="260.5" cy="996.1" r="3.6"/>
<circle cx="261.1" cy="1005.3" r="3.6"/>
<circle cx="248.9" cy="994.4" r="3.6"/>
<circle cx="258.3" cy="996.4" r="3.6"/>
<circle cx="255.8" cy="1011.0" r="3.6"/>
<circle cx="256.2" cy="1000.1" r="3.6"/>
<circle cx="259.9" cy="1004.3" r="3.6"/>
<circle cx="265.6" cy="1007.3" r="3.6"/>
<circle cx="271.9" cy="1018.7" r="3.6"/>
<circle cx="264.3" cy="999.4" r="3.6"/>
<circle cx="246.3" cy="1017.1" r="3.6"/>
<circle cx="265.7" cy="1009.9" r="3.6"/>
<circle cx="253.4" cy="1000.3" r="3.6"/>
<circle cx="262.9" cy="1008.3" r="3.6"/>
<circle cx="260.2" cy="1010.1" r="3.6"/>
<circle cx="264.8" cy="998.1" r="3.6"/>
<circle cx="250.2" cy="1019.5" r="3.6"/>
<circle cx="269.6" cy="1016.7" r="3.6"/>
<circle cx="244.1" cy="994.6" r="3.6"/>
<circle cx="250.9" cy="1004.5" r="3.6"/>
<circle cx="261.1" cy="995.8" r="3.6"/>
<circle cx="258.7" cy="995.0" r="3.6"/>
<circle cx="245.5" cy="1011.3" r="3.6"/>
<circle cx="259.0" cy="1010.0" r="3.6"/>
<circle cx="253.8" cy="1005.9" r="3.6"/>
<circle cx="249.1" cy="1002.3" r="3.6"/>
<circle cx="264.6" cy="1015.6" r="3.6"/>
<circle cx="247.2" cy="1026.0" r="3.6"/>
<circle cx="268.5" cy="1051.2" r="3.6"/>
<circle cx="267.3" cy="1030.7" r="3.6"/>
<circle cx="257.3" cy="1032.9" r="3.6"/>
<circle cx="268.5" cy="1038.4" r="3.6"/>
<circle cx="264.0" cy="1069.5" r="3.6"/>
<circle cx="254.4" cy="1047.4" r="3.6"/>
<circle cx="266.6" cy="1066.0" r="3.6"/>
<circle cx="257.4" cy="1038.5" r="3.6"/>
<circle cx="247.8" cy="1063.8" r="3.6"/>
<circle cx="247.3" cy="1024.2" r="3.6"/>
<circle cx="261.4" cy="1044.2" r="3.6"/>
<circle cx="264.9" cy="1034.9" r="3.6"/>
<circle cx="267.5" cy="1023.8" r="3.6"/>
<circle cx="251.2" cy="1053.1" r="3.6"/>
<circle cx="247.4" cy="1035.2" r="3.6"/>
<circle cx="266.0" cy="1054.7" r="3.6"/>
<circle cx="253.2" cy="1027.1" r="3.6"/>
<circle cx="255.4" cy="1056.3" r="3.6"/>
<circle cx="255.6" cy="1025.9" r="3.6"/>
<circle cx="265.6" cy="1048.5" r="3.6"/>
<circle cx="271.6" cy="1067.0" r="3.6"/>
<circle cx="271.5" cy="1041.9" r="3.6"/>
<circle cx="268.3" cy="1035.2" r="3.6"/>
<circle cx="254.2" cy="1040.0" r="3.6"/>
<circle cx="272.1" cy="1064.7" r="3.6"/>
<circle cx="252.2" cy="1038.1" r="3.6"/>
<circle cx="255.6" cy="1038.2" r="3.6"/>
<circle cx="256.5" cy="1039.4" r="3.6"/>
<circle cx="250.7" cy="1048.2" r="3.6"/>
<circle cx="268.1" cy="1047.0" r="3.6"/>
<circle cx="269.3" cy="1048.1" r="3.6"/>
<circle cx="250.1" cy="1057.9" r="3.6"/>
<circle cx="270.5" cy="1034.1" r="3.6"/>
<circle cx="245.6" cy="1045.8" r="3.6"/>
<circle cx="260.8" cy="1048.4" r="3.6"/>
<circle cx="273.0" cy="1052.6" r="3.6"/>
<circle cx="268.3" cy="1023.2" r="3.6"/>
<circle cx="260.9" cy="1059.4" r="3.6"/>
<circle cx="247.4" cy="1024.1" r="3.6"/>
<circle cx="266.4" cy="1065.0" r="3.6"/>
<circle cx="247.5" cy="1051.7" r="3.6"/>
<circle cx="249.2" cy="1057.3" r="3.6"/>
<circle cx="263.8" cy="1032.3" r="3.6"/>
<circle cx="251.4" cy="1058.3" r="3.6"/>
<circle cx="260.1" cy="1058.2" r="3.6"/>
<circle cx="256.4" cy="1036.9" r="3.6"/>
<circle cx="273.1" cy="1053.6" r="3.6"/>
<circle cx="259.3" cy="1046.9" r="3.6"/>
<circle cx="265.9" cy="1055.4" r="3.6"/>
<circle cx="271.5" cy="1040.5" r="3.6"/>
<circle cx="269.0" cy="1053.3" r="3.6"/>
<circle cx="269.8" cy="1060.3" r="3.6"/>
<circle cx="269.2" cy="1064.4" r="3.6"/>
<circle cx="272.8" cy="1052.0" r="3.6"/>
<circle cx="260.2" cy="1055.5" r="3.6"/>
<circle cx="268.3" cy="1041.1" r="3.6"/>
<circle cx="257.2" cy="1027.3" r="3.6"/>
<circle cx="266.5" cy="1069.6" r="3.6"/>
<circle cx="255.9" cy="1028.4" r="3.6"/>
<circle cx="250.9" cy="1041.2" r="3.6"/>
<circle cx="253.5" cy="1068.5" r="3.6"/>
<circle cx="246.7" cy="1035.4" r="3.6"/>
<circle cx="248.3" cy="1052.4" r="3.6"/>
<circle cx="267.5" cy="1029.0" r="3.6"/>
<circle cx="246.8" cy="1042.9" r="3.6"/>
<circle cx="261.9" cy="1065.5" r="3.6"/>
<circle cx="246.1" cy="1025.4" r="3.6"/>
<circle cx="250.4" cy="1030.9" r="3.6"/>
<circle cx="251.8" cy="1055.9" r="3.6"/>
<circle cx="262.2" cy="1031.2" r="3.6"/>
<circle cx="250.4" cy="1034.1" r="3.6"/>
<circle cx="250.0" cy="1057.9" r="3.6"/>
<circle cx="254.0" cy="1047.4" r="3.6"/>
<circle cx="268.7" cy="1044.0" r="3.6"/>
<circle cx="252.6" cy="1064.4" r="3.6"/>
<circle cx="271.5" cy="1037.1" r="3.6"/>
<circle cx="260.9" cy="1067.9" r="3.6"/>
<circle cx="259.0" cy="1031.1" r="3.6"/>
<circle cx="246.4" cy="1067.4" r="3.6"/>
<circle cx="268.2" cy="1039.2" r="3.6"/>
<circle cx="260.3" cy="1045.8" r="3.6"/>
<circle cx="253.0" cy="1069.5" r="3.6"/>
<circle cx="264.1" cy="1031.9" r="3.6"/>
<circle cx="245.3" cy="1043.6" r="3.6"/>
<circle cx="255.8" cy="1059.8" r="3.6"/>
<circle cx="265.7" cy="1050.3" r="3.6"/>
<circle cx="249.6" cy="1027.8" r="3.6"/>
<circle cx="254.3" cy="1033.0" r="3.6"/>
<circle cx="270.2" cy="1045.8" r="3.6"/>
<circle cx="263.5" cy="1069.7" r="3.6"/>
<circle cx="252.7" cy="1046.7" r="3.6"/>
<circle cx="249.4" cy="1058.5" r="3.6"/>
<circle cx="245.0" cy="1061.1" r="3.6"/>
<circle cx="269.5" cy="1061.1" r="3.6"/>
<circle cx="247.4" cy="1033.5" r="3.6"/>
<circle cx="265.8" cy="1024.9" r="3.6"/>
<circle cx="258.9" cy="1043.4" r="3.6"/>
<circle cx="272.7" cy="1049.3" r="3.6"/>
<circle cx="269.9" cy="1035.2" r="3.6"/>
<circle cx="267.9" cy="1040.8" r="3.6"/>
<circle cx="271.6" cy="1024.5" r="3.6"/>
<circle cx="269.0" cy="1030.4" r="3.6"/>
<circle cx="260.8" cy="1046.3" r="3.6"/>
<circle cx="249.6" cy="1061.6" r="3.6"/>
<circle cx="254.0" cy="1035.5" r="3.6"/>
<circle cx="247.2" cy="1035.3" r="3.6"/>
<circle cx="258.5" cy="1055.8" r="3.6"/>
<circle cx="255.4" cy="1054.4" r="3.6"/>
<circle cx="248.1" cy="1039.7" r="3.6"/>
<circle cx="257.4" cy="1104.8" r="3.6"/>
<circle cx="268.1" cy="1093.5" r="3.6"/>
<circle cx="244.4" cy="1083.6" r="3.6"/>
<circle cx="264.6" cy="1078.5" r="3.6"/>
<circle cx="260.4" cy="1086.5" r="3.6"/>
<circle cx="244.3" cy="1105.7" r="3.6"/>
<circle cx="267.2" cy="1077.4" r="3.6"/>
<circle cx="261.9" cy="1080.5" r="3.6"/>
<circle cx="254.9" cy="1089.4" r="3.6"/>
<circle cx="252.6" cy="1082.1" r="3.6"/>
<circle cx="255.4" cy="1094.0" r="3.6"/>
<circle cx="251.4" cy="1077.2" r="3.6"/>
<circle cx="265.2" cy="1081.9" r="3.6"/>
<circle cx="271.4" cy="1090.3" r="3.6"/>
<circle cx="265.0" cy="1081.9" r="3.6"/>
<circle cx="268.0" cy="1073.3" r="3.6"/>
<circle cx="248.1" cy="1073.4" r="3.6"/>
<circle cx="263.7" cy="1095.5" r="3.6"/>
<circle cx="249.2" cy="1084.5" r="3.6"/>
<circle cx="268.3" cy="1091.3" r="3.6"/>
<circle cx="246.6" cy="1078.2" r="3.6"/>
<circle cx="248.6" cy="1074.5" r="3.6"/>
<circle cx="255.8" cy="1072.6" r="3.6"/>
<circle cx="270.7" cy="1085.4" r="3.6"/>
<circle cx="258.8" cy="1093.3" r="3.6"/>
<circle cx="266.2" cy="1099.6" r="3.6"/>
<circle cx="255.2" cy="1081.9" r="3.6"/>
<circle cx="256.0" cy="1070.6" r="3.6"/>
<circle cx="255.6" cy="1095.2" r="3.6"/>
<circle cx="272.5" cy="1098.4" r="3.6"/>
<circle cx="263.1" cy="1091.9" r="3.6"/>
<circle cx="244.5" cy="1081.9" r="3.6"/>
<circle cx="253.9" cy="1093.4" r="3.6"/>
<circle cx="247.1" cy="1083.6" r="3.6"/>
<circle cx="258.8" cy="1098.4" r="3.6"/>
<circle cx="267.9" cy="1092.0" r="3.6"/>
<circle cx="248.6" cy="1097.6" r="3.6"/>
<circle cx="270.2" cy="1089.7" r="3.6"/>
<circle cx="254.2" cy="1088.0" r="3.6"/>
<circle cx="248.1" cy="1095.7" r="3.6"/>
<circle cx="272.6" cy="1088.6" r="3.6"/>
<circle cx="264.7" cy="1100.1" r="3.6"/>
<circle cx="249.7" cy="1104.0" r="3.6"/>
<circle cx="262.2" cy="1077.1" r="3.6"/>
<circle cx="246.4" cy="1078.8" r="3.6"/>
<circle cx="260.7" cy="1095.1" r="3.6"/>
<circle cx="253.5" cy="1103.4" r="3.6"/>
<circle cx="254.5" cy="1086.7" r="3.6"/>
<circle cx="247.6" cy="1105.0" r="3.6"/>
<circle cx="247.9" cy="1102.5" r="3.6"/>
<circle cx="259.8" cy="1090.2" r="3.6"/>
<circle cx="260.3" cy="1079.5" r="3.6"/>
<circle cx="270.4" cy="1105.7" r="3.6"/>
<circle cx="267.7" cy="1091.7" r="3.6"/>
<circle cx="247.6" cy="1099.7" r="3.6"/>
<circle cx="252.4" cy="1102.3" r="3.6"/>
<circle cx="251.0" cy="1090.6" r="3.6"/>
<circle cx="268.1" cy="1076.7" r="3.6"/>
<circle cx="259.9" cy="1072.7" r="3.6"/>
<circle cx="244.9" cy="1076.5" r="3.6"/>
<circle cx="272.6" cy="1103.8" r="3.6"/>
<circle cx="263.1" cy="1081.1" r="3.6"/>
<circle cx="263.5" cy="1096.6" r="3.6"/>
<circle cx="255.1" cy="1091.3" r="3.6"/>
<circle cx="267.3" cy="1070.6" r="3.6"/>
<circle cx="249.8" cy="1086.8" r="3.6"/>
<circle cx="248.1" cy="1083.9" r="3.6"/>
<circle cx="260.5" cy="1076.3" r="3.6"/>
<circle cx="259.1" cy="1079.5" r="3.6"/>
<circle cx="260.5" cy="1082.0" r="3.6"/>
<circle cx="260.8" cy="1107.7" r="3.6"/>
<circle cx="261.4" cy="1112.4" r="3.6"/>
<circle cx="267.2" cy="1132.4" r="3.6"/>
<circle cx="257.4" cy="1124.1" r="3.6"/>
<circle cx="260.5" cy="1136.3" r="3.6"/>
<circle cx="263.2" cy="1139.1" r="3.6"/>
<circle cx="257.7" cy="1149.8" r="3.6"/>
<circle cx="264.8" cy="1143.6" r="3.6"/>
<circle cx="256.2" cy="1125.1" r="3.6"/>
<circle cx="259.3" cy="1145.8" r="3.6"/>
<circle cx="258.5" cy="1129.1" r="3.6"/>
<circle cx="256.6" cy="1145.8" r="3.6"/>
<circle cx="254.4" cy="1108.4" r="3.6"/>
<circle cx="262.5" cy="1145.6" r="3.6"/>
<circle cx="262.6" cy="1132.3" r="3.6"/>
<circle cx="263.0" cy="1119.4" r="3.6"/>
<circle cx="259.9" cy="1109.1" r="3.6"/>
<circle cx="250.5" cy="1125.7" r="3.6"/>
<circle cx="258.1" cy="1123.5" r="3.6"/>
<circle cx="249.0" cy="1136.6" r="3.6"/>
<circle cx="258.5" cy="1116.5" r="3.6"/>
<circle cx="254.1" cy="1123.4" r="3.6"/>
<circle cx="252.7" cy="1109.0" r="3.6"/>
<circle cx="266.2" cy="1148.5" r="3.6"/>
<circle cx="261.3" cy="1144.1" r="3.6"/>
<circle cx="256.4" cy="1141.4" r="3.6"/>
<circle cx="257.2" cy="1161.9" r="3.6"/>
<circle cx="260.7" cy="1164.5" r="3.6"/>
<circle cx="256.0" cy="1162.7" r="3.6"/>
<circle cx="256.2" cy="1158.6" r="3.6"/>
<circle cx="439.0" cy="912.4" r="3.6"/>
<circle cx="439.4" cy="912.7" r="3.6"/>
<circle cx="417.8" cy="927.1" r="3.6"/>
<circle cx="433.0" cy="928.2" r="3.6"/>
<circle cx="422.1" cy="935.5" r="3.6"/>
<circle cx="427.3" cy="941.6" r="3.6"/>
<circle cx="416.0" cy="949.4" r="3.6"/>
<circle cx="424.7" cy="951.1" r="3.6"/>
<circle cx="438.6" cy="951.1" r="3.6"/>
<circle cx="425.6" cy="959.8" r="3.6"/>
<circle cx="419.5" cy="965.9" r="3.6"/>
<circle cx="440.3" cy="965.9" r="3.6"/>
<circle cx="440.7" cy="966.2" r="3.6"/>
<circle cx="431.7" cy="974.6" r="3.6"/>
<circle cx="427.3" cy="993.7" r="3.6"/>
<circle cx="416.9" cy="999.7" r="3.6"/>
<circle cx="429.0" cy="997.1" r="3.6"/>
<circle cx="437.7" cy="1006.7" r="3.6"/>
<circle cx="415.1" cy="1010.2" r="3.6"/>
<circle cx="429.9" cy="1011.0" r="3.6"/>
<circle cx="430.8" cy="1017.1" r="3.6"/>
<circle cx="421.2" cy="1022.3" r="3.6"/>
<circle cx="436.0" cy="1022.3" r="3.6"/>
<circle cx="418.6" cy="1039.7" r="3.6"/>
<circle cx="435.1" cy="1037.1" r="3.6"/>
<circle cx="440.3" cy="1044.9" r="3.6"/>
<circle cx="431.7" cy="1041.4" r="3.6"/>
<circle cx="429.9" cy="1066.6" r="3.6"/>
<circle cx="429.9" cy="1068.6" r="3.6"/>
<circle cx="420.4" cy="1097.0" r="3.6"/>
<circle cx="435.1" cy="1105.7" r="3.6"/>
<circle cx="435.5" cy="1106.0" r="3.6"/>
<circle cx="1078.4" cy="899.4" r="3.6"/>
<circle cx="1078.8" cy="899.7" r="3.6"/>
<circle cx="1104.5" cy="909.7" r="3.6"/>
<circle cx="1104.9" cy="910.0" r="3.6"/>
<circle cx="1100.6" cy="913.6" r="3.6"/>
<circle cx="1096.6" cy="917.6" r="3.6"/>
<circle cx="1097.0" cy="917.9" r="3.6"/>
<circle cx="1076.8" cy="916.6" r="3.6"/>
<circle cx="1071.9" cy="922.5" r="3.6"/>
<circle cx="1072.3" cy="922.8" r="3.6"/>
<circle cx="1067.9" cy="929.5" r="3.6"/>
<circle cx="1067.9" cy="935.4" r="3.6"/>
<circle cx="1072.9" cy="943.3" r="3.6"/>
<circle cx="1071.9" cy="948.3" r="3.6"/>
<circle cx="1089.7" cy="926.5" r="3.6"/>
<circle cx="1088.7" cy="933.4" r="3.6"/>
<circle cx="1083.8" cy="947.3" r="3.6"/>
<circle cx="1101.6" cy="937.4" r="3.6"/>
<circle cx="1071.9" cy="959.1" r="3.6"/>
<circle cx="1088.7" cy="959.1" r="3.6"/>
<circle cx="1072.9" cy="970.0" r="3.6"/>
<circle cx="1085.7" cy="968.0" r="3.6"/>
<circle cx="1077.8" cy="977.0" r="3.6"/>
<circle cx="1088.7" cy="977.0" r="3.6"/>
<circle cx="1104.5" cy="971.0" r="3.6"/>
<circle cx="1104.9" cy="971.3" r="3.6"/>
<circle cx="1098.6" cy="978.9" r="3.6"/>
<circle cx="1066.0" cy="999.7" r="3.6"/>
<circle cx="1066.0" cy="1006.6" r="3.6"/>
<circle cx="1088.7" cy="998.7" r="3.6"/>
<circle cx="1091.7" cy="1004.7" r="3.6"/>
<circle cx="1095.6" cy="996.7" r="3.6"/>
<circle cx="1080.8" cy="1013.6" r="3.6"/>
<circle cx="1067.9" cy="1019.5" r="3.6"/>
<circle cx="1066.9" cy="1026.4" r="3.6"/>
<circle cx="1092.7" cy="1016.5" r="3.6"/>
<circle cx="1098.6" cy="1018.5" r="3.6"/>
<circle cx="1088.7" cy="1026.4" r="3.6"/>
<circle cx="1080.8" cy="1031.4" r="3.6"/>
<circle cx="1086.7" cy="1034.3" r="3.6"/>
<circle cx="1100.6" cy="1031.4" r="3.6"/>
<circle cx="1071.9" cy="1042.6" r="3.6"/>
<circle cx="1086.7" cy="1045.2" r="3.6"/>
<circle cx="1087.1" cy="1045.5" r="3.6"/>
<circle cx="1090.7" cy="1048.2" r="3.6"/>
<circle cx="1091.1" cy="1048.5" r="3.6"/>
<circle cx="1083.8" cy="1051.2" r="3.6"/>
<circle cx="1084.2" cy="1051.5" r="3.6"/>
<circle cx="1104.5" cy="1054.1" r="3.6"/>
<circle cx="1096.6" cy="1059.1" r="3.6"/>
<circle cx="1102.6" cy="1065.0" r="3.6"/>
<circle cx="1077.8" cy="1066.0" r="3.6"/>
<circle cx="1081.8" cy="1081.8" r="3.6"/>
<circle cx="1098.2" cy="1083.8" r="3.6"/>
<circle cx="1079.8" cy="1094.7" r="3.6"/>
<circle cx="1096.0" cy="1100.0" r="3.6"/>
<circle cx="1071.9" cy="1112.5" r="3.6"/>
<circle cx="1074.9" cy="1119.4" r="3.6"/>
<circle cx="1075.3" cy="1119.7" r="3.6"/>
<circle cx="1101.5" cy="982.0" r="3.6"/>
<circle cx="1079.6" cy="986.2" r="3.6"/>
<circle cx="1082.1" cy="982.9" r="3.6"/>
<circle cx="1099.7" cy="993.4" r="3.6"/>
<circle cx="1084.3" cy="987.0" r="3.6"/>
<circle cx="1090.2" cy="982.6" r="3.6"/>
<circle cx="1073.0" cy="994.6" r="3.6"/>
<circle cx="1081.5" cy="989.0" r="3.6"/>
<circle cx="1101.0" cy="995.7" r="3.6"/>
<circle cx="1086.7" cy="984.9" r="3.6"/>
<circle cx="1081.2" cy="994.9" r="3.6"/>
<circle cx="1099.8" cy="984.7" r="3.6"/>
<circle cx="1098.0" cy="987.0" r="3.6"/>
<circle cx="1086.6" cy="984.4" r="3.6"/>
<circle cx="1079.3" cy="957.8" r="3.6"/>
<circle cx="1069.8" cy="942.2" r="3.6"/>
<circle cx="1069.7" cy="952.8" r="3.6"/>
<circle cx="1067.7" cy="919.6" r="3.6"/>
<circle cx="1077.2" cy="928.5" r="3.6"/>
<circle cx="1079.6" cy="952.4" r="3.6"/>
<circle cx="1077.0" cy="920.8" r="3.6"/>
<circle cx="1076.7" cy="955.3" r="3.6"/>
<circle cx="1073.2" cy="918.4" r="3.6"/>
<circle cx="1070.1" cy="928.2" r="3.6"/>
<circle cx="1091.0" cy="966.3" r="3.6"/>
<circle cx="1074.6" cy="967.9" r="3.6"/>
<circle cx="1089.6" cy="991.2" r="3.6"/>
<circle cx="1080.5" cy="985.8" r="3.6"/>
<circle cx="1096.4" cy="982.8" r="3.6"/>
<circle cx="1076.1" cy="970.6" r="3.6"/>
<circle cx="1097.7" cy="986.0" r="3.6"/>
<circle cx="1077.6" cy="984.9" r="3.6"/>
<circle cx="1071.8" cy="999.3" r="3.6"/>
<circle cx="1082.7" cy="980.2" r="3.6"/>
<circle cx="1085.5" cy="959.9" r="3.6"/>
<circle cx="1087.6" cy="970.0" r="3.6"/>
<circle cx="1084.3" cy="1041.7" r="3.6"/>
<circle cx="1080.2" cy="1020.0" r="3.6"/>
<circle cx="1096.9" cy="1018.3" r="3.6"/>
<circle cx="1085.0" cy="1031.0" r="3.6"/>
<circle cx="1082.7" cy="1045.7" r="3.6"/>
<circle cx="1102.7" cy="1009.4" r="3.6"/>
<circle cx="1089.5" cy="1039.5" r="3.6"/>
<circle cx="1087.6" cy="1047.0" r="3.6"/>
<circle cx="1326.3" cy="902.7" r="3.6"/>
<circle cx="1326.7" cy="903.0" r="3.6"/>
<circle cx="1341.2" cy="932.1" r="3.6"/>
<circle cx="1341.6" cy="932.4" r="3.6"/>
<circle cx="1347.8" cy="932.1" r="3.6"/>
<circle cx="1340.4" cy="950.5" r="3.6"/>
<circle cx="1354.2" cy="953.6" r="3.6"/>
<circle cx="1334.3" cy="964.0" r="3.6"/>
<circle cx="1355.0" cy="965.9" r="3.6"/>
<circle cx="1360.3" cy="965.9" r="3.6"/>
<circle cx="1329.7" cy="972.8" r="3.6"/>
<circle cx="1330.1" cy="973.1" r="3.6"/>
<circle cx="1337.3" cy="978.1" r="3.6"/>
<circle cx="1337.7" cy="978.4" r="3.6"/>
<circle cx="1324.3" cy="990.4" r="3.6"/>
<circle cx="1351.1" cy="991.2" r="3.6"/>
<circle cx="1358.0" cy="989.6" r="3.6"/>
<circle cx="1357.3" cy="995.0" r="3.6"/>
<circle cx="1322.0" cy="1001.9" r="3.6"/>
<circle cx="1327.4" cy="1002.4" r="3.6"/>
<circle cx="1337.3" cy="1039.5" r="3.6"/>
<circle cx="1337.7" cy="1039.8" r="3.6"/>
<circle cx="259.4" cy="1614.5" r="3.6"/>
<circle cx="257.3" cy="1690.1" r="3.6"/>
<circle cx="257.7" cy="1690.4" r="3.6"/>
<circle cx="271.0" cy="1695.0" r="3.6"/>
<circle cx="271.4" cy="1695.3" r="3.6"/>
<circle cx="252.8" cy="1697.8" r="3.6"/>
<circle cx="253.2" cy="1698.1" r="3.6"/>
<circle cx="250.0" cy="1702.0" r="3.6"/>
<circle cx="254.9" cy="1706.2" r="3.6"/>
<circle cx="255.3" cy="1706.5" r="3.6"/>
<circle cx="249.3" cy="1713.2" r="3.6"/>
<circle cx="252.1" cy="1716.7" r="3.6"/>
<circle cx="271.0" cy="1709.0" r="3.6"/>
<circle cx="271.4" cy="1709.3" r="3.6"/>
<circle cx="266.8" cy="1716.0" r="3.6"/>
<circle cx="267.2" cy="1716.3" r="3.6"/>
<circle cx="271.7" cy="1720.9" r="3.6"/>
<circle cx="272.1" cy="1721.2" r="3.6"/>
<circle cx="251.4" cy="1723.0" r="3.6"/>
<circle cx="251.8" cy="1723.3" r="3.6"/>
<circle cx="254.2" cy="1727.2" r="3.6"/>
<circle cx="254.6" cy="1727.5" r="3.6"/>
<circle cx="257.7" cy="1730.7" r="3.6"/>
<circle cx="258.1" cy="1731.0" r="3.6"/>
<circle cx="269.6" cy="1732.8" r="3.6"/>
<circle cx="264.0" cy="1735.6" r="3.6"/>
<circle cx="244.4" cy="1739.1" r="3.6"/>
<circle cx="248.6" cy="1738.4" r="3.6"/>
<circle cx="249.0" cy="1738.7" r="3.6"/>
<circle cx="247.9" cy="1745.4" r="3.6"/>
<circle cx="248.3" cy="1745.7" r="3.6"/>
<circle cx="252.8" cy="1742.6" r="3.6"/>
<circle cx="264.0" cy="1741.2" r="3.6"/>
<circle cx="268.2" cy="1745.4" r="3.6"/>
<circle cx="269.6" cy="1751.0" r="3.6"/>
<circle cx="271.0" cy="1809.0" r="3.6"/>
<circle cx="269.6" cy="1813.9" r="3.6"/>
<circle cx="271.7" cy="1823.0" r="3.6"/>
<circle cx="270.3" cy="1832.8" r="3.6"/>
<circle cx="243.0" cy="1819.5" r="3.6"/>
<circle cx="243.7" cy="1827.9" r="3.6"/>
<circle cx="245.8" cy="1808.3" r="3.6"/>
<circle cx="250.0" cy="1837.7" r="3.6"/>
<circle cx="250.4" cy="1838.0" r="3.6"/>
<circle cx="255.6" cy="1840.5" r="3.6"/>
<circle cx="256.0" cy="1840.8" r="3.6"/>
<circle cx="258.4" cy="1846.1" r="3.6"/>
<circle cx="258.8" cy="1846.4" r="3.6"/>
<circle cx="260.1" cy="1852.7" r="3.6"/>
<circle cx="260.5" cy="1853.0" r="3.6"/>
<circle cx="259.0" cy="1760.6" r="3.6"/>
<circle cx="260.5" cy="1783.0" r="3.6"/>
<circle cx="255.4" cy="1783.6" r="3.6"/>
<circle cx="266.4" cy="1776.8" r="3.6"/>
<circle cx="259.1" cy="1792.6" r="3.6"/>
<circle cx="263.8" cy="1777.0" r="3.6"/>
<circle cx="270.7" cy="1760.3" r="3.6"/>
<circle cx="266.3" cy="1759.9" r="3.6"/>
<circle cx="261.8" cy="1763.3" r="3.6"/>
<circle cx="257.5" cy="1789.1" r="3.6"/>
<circle cx="266.5" cy="1790.0" r="3.6"/>
<circle cx="252.1" cy="1775.5" r="3.6"/>
<circle cx="251.8" cy="1779.8" r="3.6"/>
<circle cx="259.0" cy="1753.7" r="3.6"/>
<circle cx="261.5" cy="1786.3" r="3.6"/>
<circle cx="260.9" cy="1793.9" r="3.6"/>
<circle cx="250.7" cy="1759.3" r="3.6"/>
<circle cx="246.5" cy="1775.8" r="3.6"/>
<circle cx="257.3" cy="1773.2" r="3.6"/>
<circle cx="252.8" cy="1790.3" r="3.6"/>
<circle cx="247.9" cy="1795.6" r="3.6"/>
<circle cx="260.8" cy="1778.1" r="3.6"/>
<circle cx="266.6" cy="1763.4" r="3.6"/>
<circle cx="249.8" cy="1766.9" r="3.6"/>
<circle cx="247.1" cy="1767.1" r="3.6"/>
<circle cx="262.2" cy="1777.2" r="3.6"/>
<circle cx="252.9" cy="1780.3" r="3.6"/>
<circle cx="248.3" cy="1791.4" r="3.6"/>
<circle cx="250.5" cy="1764.2" r="3.6"/>
<circle cx="250.2" cy="1785.2" r="3.6"/>
<circle cx="267.6" cy="1789.8" r="3.6"/>
<circle cx="247.6" cy="1771.7" r="3.6"/>
<circle cx="255.5" cy="1762.4" r="3.6"/>
<circle cx="271.2" cy="1754.0" r="3.6"/>
<circle cx="258.7" cy="1788.5" r="3.6"/>
<circle cx="271.6" cy="1758.9" r="3.6"/>
<circle cx="257.8" cy="1787.8" r="3.6"/>
<circle cx="247.0" cy="1763.5" r="3.6"/>
<circle cx="269.1" cy="1758.8" r="3.6"/>
<circle cx="256.2" cy="1766.3" r="3.6"/>
<circle cx="257.0" cy="1755.7" r="3.6"/>
<circle cx="246.9" cy="1799.8" r="3.6"/>
<circle cx="265.8" cy="1787.2" r="3.6"/>
<circle cx="252.0" cy="1764.2" r="3.6"/>
<circle cx="260.3" cy="1763.6" r="3.6"/>
<circle cx="258.0" cy="1796.8" r="3.6"/>
<circle cx="255.5" cy="1768.2" r="3.6"/>
<circle cx="271.5" cy="1781.3" r="3.6"/>
<circle cx="247.0" cy="1771.3" r="3.6"/>
<circle cx="262.9" cy="1754.8" r="3.6"/>
<circle cx="254.9" cy="1785.3" r="3.6"/>
<circle cx="268.5" cy="1780.4" r="3.6"/>
<circle cx="269.0" cy="1774.2" r="3.6"/>
<circle cx="256.2" cy="1792.5" r="3.6"/>
<circle cx="255.9" cy="1789.5" r="3.6"/>
<circle cx="251.6" cy="1768.7" r="3.6"/>
<circle cx="250.8" cy="1778.4" r="3.6"/>
<circle cx="250.3" cy="1761.8" r="3.6"/>
<circle cx="251.6" cy="1774.5" r="3.6"/>
<circle cx="254.0" cy="1773.5" r="3.6"/>
<circle cx="271.8" cy="1784.6" r="3.6"/>
<circle cx="268.4" cy="1761.8" r="3.6"/>
<circle cx="256.0" cy="1755.5" r="3.6"/>
<circle cx="264.0" cy="1769.4" r="3.6"/>
<circle cx="253.1" cy="1752.9" r="3.6"/>
<circle cx="250.7" cy="1764.6" r="3.6"/>
<circle cx="256.2" cy="1796.3" r="3.6"/>
<circle cx="264.6" cy="1764.9" r="3.6"/>
<circle cx="255.4" cy="1759.4" r="3.6"/>
<circle cx="270.4" cy="1769.3" r="3.6"/>
<circle cx="265.9" cy="1786.7" r="3.6"/>
<circle cx="269.6" cy="1753.0" r="3.6"/>
<circle cx="254.4" cy="1770.5" r="3.6"/>
<circle cx="248.2" cy="1794.4" r="3.6"/>
<circle cx="254.5" cy="1789.0" r="3.6"/>
<circle cx="259.5" cy="1754.6" r="3.6"/>
<circle cx="256.2" cy="1763.4" r="3.6"/>
<circle cx="247.1" cy="1759.2" r="3.6"/>
<circle cx="261.5" cy="1753.5" r="3.6"/>
<circle cx="254.1" cy="1772.4" r="3.6"/>
<circle cx="260.1" cy="1758.5" r="3.6"/>
<circle cx="264.4" cy="1764.5" r="3.6"/>
<circle cx="264.9" cy="1784.0" r="3.6"/>
<circle cx="249.8" cy="1761.8" r="3.6"/>
<circle cx="253.3" cy="1786.2" r="3.6"/>
<circle cx="256.5" cy="1770.6" r="3.6"/>
<circle cx="268.5" cy="1762.9" r="3.6"/>
<circle cx="253.6" cy="1768.6" r="3.6"/>
<circle cx="251.6" cy="1754.0" r="3.6"/>
<circle cx="246.6" cy="1782.3" r="3.6"/>
<circle cx="260.7" cy="1790.8" r="3.6"/>
<circle cx="271.4" cy="1766.3" r="3.6"/>
<circle cx="263.4" cy="1796.1" r="3.6"/>
<circle cx="251.6" cy="1785.1" r="3.6"/>
<circle cx="263.3" cy="1797.8" r="3.6"/>
<circle cx="268.6" cy="1763.3" r="3.6"/>
<circle cx="262.4" cy="1756.3" r="3.6"/>
<circle cx="257.1" cy="1770.8" r="3.6"/>
<circle cx="247.6" cy="1770.4" r="3.6"/>
<circle cx="254.5" cy="1775.9" r="3.6"/>
<circle cx="253.3" cy="1759.6" r="3.6"/>
<circle cx="256.5" cy="1774.8" r="3.6"/>
<circle cx="250.3" cy="1783.9" r="3.6"/>
<circle cx="252.2" cy="1756.5" r="3.6"/>
<circle cx="254.9" cy="1772.3" r="3.6"/>
<circle cx="249.9" cy="1780.0" r="3.6"/>
<circle cx="264.2" cy="1778.6" r="3.6"/>
<circle cx="264.2" cy="1753.1" r="3.6"/>
<circle cx="256.2" cy="1769.5" r="3.6"/>
<circle cx="247.6" cy="1771.4" r="3.6"/>
<circle cx="247.4" cy="1775.8" r="3.6"/>
<circle cx="261.2" cy="1774.5" r="3.6"/>
<circle cx="254.5" cy="1764.2" r="3.6"/>
<circle cx="246.6" cy="1768.7" r="3.6"/>
<circle cx="269.2" cy="1779.2" r="3.6"/>
<circle cx="252.8" cy="1784.1" r="3.6"/>
<circle cx="250.8" cy="1774.5" r="3.6"/>
<circle cx="262.0" cy="1797.8" r="3.6"/>
<circle cx="255.4" cy="1779.7" r="3.6"/>
<circle cx="270.5" cy="1789.0" r="3.6"/>
<circle cx="257.4" cy="1822.8" r="3.6"/>
<circle cx="252.5" cy="1814.6" r="3.6"/>
<circle cx="249.4" cy="1831.2" r="3.6"/>
<circle cx="263.2" cy="1813.3" r="3.6"/>
<circle cx="263.9" cy="1799.5" r="3.6"/>
<circle cx="246.1" cy="1818.3" r="3.6"/>
<circle cx="250.1" cy="1812.4" r="3.6"/>
<circle cx="265.5" cy="1804.0" r="3.6"/>
<circle cx="247.4" cy="1807.1" r="3.6"/>
<circle cx="258.6" cy="1807.4" r="3.6"/>
<circle cx="243.0" cy="1819.8" r="3.6"/>
<circle cx="252.1" cy="1807.6" r="3.6"/>
<circle cx="254.4" cy="1824.0" r="3.6"/>
<circle cx="255.6" cy="1823.0" r="3.6"/>
<circle cx="255.9" cy="1831.2" r="3.6"/>
<circle cx="265.3" cy="1811.3" r="3.6"/>
<circle cx="251.0" cy="1833.5" r="3.6"/>
<circle cx="250.2" cy="1826.6" r="3.6"/>
<circle cx="259.0" cy="1825.5" r="3.6"/>
<circle cx="265.2" cy="1831.0" r="3.6"/>
<circle cx="246.7" cy="1822.9" r="3.6"/>
<circle cx="254.3" cy="1820.6" r="3.6"/>
<circle cx="251.5" cy="1809.4" r="3.6"/>
<circle cx="260.2" cy="1819.4" r="3.6"/>
<circle cx="248.5" cy="1808.0" r="3.6"/>
<circle cx="250.5" cy="1805.1" r="3.6"/>
<circle cx="254.8" cy="1803.0" r="3.6"/>
<circle cx="244.5" cy="1800.7" r="3.6"/>
<circle cx="245.4" cy="1826.2" r="3.6"/>
<circle cx="245.6" cy="1816.1" r="3.6"/>
<circle cx="260.8" cy="1817.2" r="3.6"/>
<circle cx="246.7" cy="1832.7" r="3.6"/>
<circle cx="263.0" cy="1800.1" r="3.6"/>
<circle cx="248.8" cy="1818.3" r="3.6"/>
<circle cx="261.3" cy="1813.7" r="3.6"/>
<circle cx="259.5" cy="1808.1" r="3.6"/>
<circle cx="259.5" cy="1811.1" r="3.6"/>
<circle cx="250.7" cy="1828.4" r="3.6"/>
<circle cx="262.4" cy="1831.1" r="3.6"/>
<circle cx="256.1" cy="1814.8" r="3.6"/>
<circle cx="259.3" cy="1822.9" r="3.6"/>
<circle cx="262.1" cy="1830.0" r="3.6"/>
<circle cx="245.9" cy="1813.1" r="3.6"/>
<circle cx="258.4" cy="1807.2" r="3.6"/>
<circle cx="247.2" cy="1798.5" r="3.6"/>
<circle cx="256.5" cy="1835.6" r="3.6"/>
<circle cx="265.3" cy="1803.3" r="3.6"/>
<circle cx="258.8" cy="1814.8" r="3.6"/>
<circle cx="257.5" cy="1813.9" r="3.6"/>
<circle cx="264.5" cy="1837.6" r="3.6"/>
<circle cx="244.1" cy="1826.5" r="3.6"/>
<circle cx="245.7" cy="1799.7" r="3.6"/>
<circle cx="249.6" cy="1827.2" r="3.6"/>
<circle cx="265.9" cy="1802.8" r="3.6"/>
<circle cx="250.6" cy="1799.1" r="3.6"/>
<circle cx="255.5" cy="1817.3" r="3.6"/>
<circle cx="251.6" cy="1810.4" r="3.6"/>
<circle cx="261.4" cy="1831.5" r="3.6"/>
<circle cx="249.5" cy="1813.7" r="3.6"/>
<circle cx="257.2" cy="1828.6" r="3.6"/>
<circle cx="271.8" cy="1770.6" r="3.6"/>
<circle cx="268.9" cy="1776.8" r="3.6"/>
<circle cx="270.0" cy="1760.9" r="3.6"/>
<circle cx="263.8" cy="1759.3" r="3.6"/>
<circle cx="271.3" cy="1765.1" r="3.6"/>
<circle cx="266.9" cy="1759.8" r="3.6"/>
<circle cx="265.2" cy="1755.8" r="3.6"/>
<circle cx="267.7" cy="1760.7" r="3.6"/>
<circle cx="268.3" cy="1766.0" r="3.6"/>
<circle cx="264.3" cy="1774.3" r="3.6"/>
<circle cx="424.2" cy="1698.6" r="3.6"/>
<circle cx="424.6" cy="1698.9" r="3.6"/>
<circle cx="438.7" cy="1698.0" r="3.6"/>
<circle cx="439.1" cy="1698.3" r="3.6"/>
<circle cx="436.3" cy="1711.9" r="3.6"/>
<circle cx="436.7" cy="1712.2" r="3.6"/>
<circle cx="430.8" cy="1708.9" r="3.6"/>
<circle cx="441.7" cy="1729.4" r="3.6"/>
<circle cx="415.8" cy="1731.2" r="3.6"/>
<circle cx="417.6" cy="1738.4" r="3.6"/>
<circle cx="422.4" cy="1734.8" r="3.6"/>
<circle cx="422.8" cy="1735.1" r="3.6"/>
<circle cx="439.3" cy="1751.1" r="3.6"/>
<circle cx="422.4" cy="1752.9" r="3.6"/>
<circle cx="433.3" cy="1746.9" r="3.6"/>
<circle cx="433.7" cy="1747.2" r="3.6"/>
<circle cx="428.4" cy="1756.5" r="3.6"/>
<circle cx="428.8" cy="1756.8" r="3.6"/>
<circle cx="422.4" cy="1761.4" r="3.6"/>
<circle cx="439.3" cy="1760.1" r="3.6"/>
<circle cx="439.7" cy="1760.4" r="3.6"/>
<circle cx="418.8" cy="1766.2" r="3.6"/>
<circle cx="419.2" cy="1766.5" r="3.6"/>
<circle cx="415.8" cy="1786.7" r="3.6"/>
<circle cx="441.7" cy="1783.1" r="3.6"/>
<circle cx="417.6" cy="1806.6" r="3.6"/>
<circle cx="442.9" cy="1810.8" r="3.6"/>
<circle cx="443.3" cy="1811.1" r="3.6"/>
<circle cx="419.4" cy="1813.8" r="3.6"/>
<circle cx="427.2" cy="1815.6" r="3.6"/>
<circle cx="441.1" cy="1847.6" r="3.6"/>
<circle cx="441.5" cy="1847.9" r="3.6"/>
<circle cx="434.5" cy="1845.8" r="3.6"/>
<circle cx="434.9" cy="1846.1" r="3.6"/>
<circle cx="429.6" cy="1855.5" r="3.6"/>
<circle cx="430.0" cy="1855.8" r="3.6"/>
<circle cx="434.5" cy="1863.9" r="3.6"/>
<circle cx="434.9" cy="1864.2" r="3.6"/>
<circle cx="429.6" cy="1862.7" r="3.6"/>
<circle cx="417.8" cy="1879.8" r="3.6"/>
<circle cx="423.6" cy="1894.1" r="3.6"/>
<circle cx="424.0" cy="1894.4" r="3.6"/>
<circle cx="426.1" cy="1769.6" r="3.6"/>
<circle cx="418.3" cy="1761.6" r="3.6"/>
<circle cx="439.3" cy="1771.7" r="3.6"/>
<circle cx="419.0" cy="1766.5" r="3.6"/>
<circle cx="429.1" cy="1799.9" r="3.6"/>
<circle cx="422.1" cy="1794.6" r="3.6"/>
<circle cx="429.1" cy="1776.0" r="3.6"/>
<circle cx="437.2" cy="1775.2" r="3.6"/>
<circle cx="418.4" cy="1781.6" r="3.6"/>
<circle cx="433.4" cy="1784.5" r="3.6"/>
<circle cx="423.9" cy="1797.5" r="3.6"/>
<circle cx="438.6" cy="1799.8" r="3.6"/>
<circle cx="428.1" cy="1793.2" r="3.6"/>
<circle cx="435.1" cy="1766.2" r="3.6"/>
<circle cx="417.7" cy="1765.9" r="3.6"/>
<circle cx="420.0" cy="1762.1" r="3.6"/>
<circle cx="426.0" cy="1789.9" r="3.6"/>
<circle cx="424.8" cy="1780.1" r="3.6"/>
<circle cx="417.3" cy="1767.6" r="3.6"/>
<circle cx="441.0" cy="1759.5" r="3.6"/>
<circle cx="430.2" cy="1792.2" r="3.6"/>
<circle cx="436.8" cy="1789.2" r="3.6"/>
<circle cx="427.0" cy="1791.9" r="3.6"/>
<circle cx="437.7" cy="1790.5" r="3.6"/>
<circle cx="441.6" cy="1763.1" r="3.6"/>
<circle cx="440.8" cy="1775.5" r="3.6"/>
<circle cx="434.6" cy="1769.3" r="3.6"/>
<circle cx="439.7" cy="1760.0" r="3.6"/>
<circle cx="431.4" cy="1768.3" r="3.6"/>
<circle cx="426.7" cy="1774.1" r="3.6"/>
<circle cx="433.4" cy="1792.2" r="3.6"/>
<circle cx="426.1" cy="1785.2" r="3.6"/>
<circle cx="425.9" cy="1770.4" r="3.6"/>
<circle cx="439.6" cy="1772.2" r="3.6"/>
<circle cx="419.4" cy="1772.7" r="3.6"/>
<circle cx="435.5" cy="1767.7" r="3.6"/>
<circle cx="435.6" cy="1781.4" r="3.6"/>
<circle cx="434.0" cy="1766.3" r="3.6"/>
<circle cx="419.6" cy="1764.9" r="3.6"/>
<circle cx="425.8" cy="1776.7" r="3.6"/>
<circle cx="417.2" cy="1779.6" r="3.6"/>
<circle cx="427.1" cy="1772.2" r="3.6"/>
<circle cx="430.4" cy="1798.0" r="3.6"/>
<circle cx="422.1" cy="1795.1" r="3.6"/>
<circle cx="425.0" cy="1789.9" r="3.6"/>
<circle cx="419.7" cy="1799.5" r="3.6"/>
<circle cx="427.8" cy="1798.5" r="3.6"/>
<circle cx="422.5" cy="1775.7" r="3.6"/>
<circle cx="434.7" cy="1766.3" r="3.6"/>
<circle cx="423.8" cy="1786.8" r="3.6"/>
<circle cx="440.7" cy="1772.2" r="3.6"/>
<circle cx="421.6" cy="1773.6" r="3.6"/>
<circle cx="441.7" cy="1765.1" r="3.6"/>
<circle cx="432.9" cy="1774.5" r="3.6"/>
<circle cx="433.1" cy="1767.7" r="3.6"/>
<circle cx="432.4" cy="1795.4" r="3.6"/>
<circle cx="438.4" cy="1784.8" r="3.6"/>
<circle cx="429.6" cy="1782.3" r="3.6"/>
<circle cx="419.9" cy="1793.3" r="3.6"/>
<circle cx="434.2" cy="1777.6" r="3.6"/>
<circle cx="433.6" cy="1776.2" r="3.6"/>
<circle cx="426.6" cy="1768.4" r="3.6"/>
<circle cx="432.0" cy="1782.5" r="3.6"/>
<circle cx="429.9" cy="1760.3" r="3.6"/>
<circle cx="432.7" cy="1777.3" r="3.6"/>
<circle cx="431.8" cy="1783.4" r="3.6"/>
<circle cx="440.3" cy="1765.2" r="3.6"/>
<circle cx="428.7" cy="1799.7" r="3.6"/>
<circle cx="435.4" cy="1771.8" r="3.6"/>
<circle cx="435.4" cy="1799.6" r="3.6"/>
<circle cx="425.7" cy="1818.4" r="3.6"/>
<circle cx="419.0" cy="1821.7" r="3.6"/>
<circle cx="427.8" cy="1801.3" r="3.6"/>
<circle cx="436.2" cy="1812.5" r="3.6"/>
<circle cx="438.5" cy="1817.4" r="3.6"/>
<circle cx="435.1" cy="1808.8" r="3.6"/>
<circle cx="439.8" cy="1796.8" r="3.6"/>
<circle cx="436.9" cy="1814.2" r="3.6"/>
<circle cx="422.0" cy="1816.8" r="3.6"/>
<circle cx="426.9" cy="1809.5" r="3.6"/>
<circle cx="436.8" cy="1800.3" r="3.6"/>
<circle cx="422.7" cy="1812.4" r="3.6"/>
<circle cx="417.8" cy="1810.0" r="3.6"/>
<circle cx="434.9" cy="1808.3" r="3.6"/>
<circle cx="421.8" cy="1816.6" r="3.6"/>
<circle cx="436.5" cy="1815.8" r="3.6"/>
<circle cx="429.2" cy="1819.5" r="3.6"/>
<circle cx="435.1" cy="1799.1" r="3.6"/>
<circle cx="424.8" cy="1797.7" r="3.6"/>
<circle cx="416.9" cy="1804.3" r="3.6"/>
<circle cx="436.8" cy="1817.5" r="3.6"/>
<circle cx="418.8" cy="1799.9" r="3.6"/>
<circle cx="425.3" cy="1817.9" r="3.6"/>
<circle cx="430.8" cy="1819.3" r="3.6"/>
<circle cx="417.7" cy="1821.7" r="3.6"/>
<circle cx="421.0" cy="1812.0" r="3.6"/>
<circle cx="437.0" cy="1814.6" r="3.6"/>
<circle cx="420.7" cy="1813.0" r="3.6"/>
<circle cx="426.3" cy="1795.4" r="3.6"/>
<circle cx="424.1" cy="1803.5" r="3.6"/>
<circle cx="431.1" cy="1802.5" r="3.6"/>
<circle cx="430.5" cy="1813.8" r="3.6"/>
<circle cx="420.3" cy="1798.5" r="3.6"/>
<circle cx="432.7" cy="1807.6" r="3.6"/>
<circle cx="419.1" cy="1798.1" r="3.6"/>
<circle cx="438.6" cy="1811.5" r="3.6"/>
<circle cx="425.8" cy="1825.7" r="3.6"/>
<circle cx="437.9" cy="1837.6" r="3.6"/>
<circle cx="433.0" cy="1829.6" r="3.6"/>
<circle cx="424.9" cy="1830.8" r="3.6"/>
<circle cx="421.8" cy="1836.1" r="3.6"/>
<circle cx="427.1" cy="1840.7" r="3.6"/>
<circle cx="426.8" cy="1832.0" r="3.6"/>
<circle cx="428.6" cy="1843.6" r="3.6"/>
<circle cx="425.6" cy="1837.9" r="3.6"/>
<circle cx="423.5" cy="1834.9" r="3.6"/>
<circle cx="424.4" cy="1841.9" r="3.6"/>
<circle cx="424.4" cy="1841.5" r="3.6"/>
<circle cx="431.9" cy="1831.9" r="3.6"/>
<circle cx="436.7" cy="1830.3" r="3.6"/>
<circle cx="433.1" cy="1835.4" r="3.6"/>
<circle cx="427.5" cy="1822.5" r="3.6"/>
<circle cx="427.0" cy="1827.8" r="3.6"/>
<circle cx="427.4" cy="1843.9" r="3.6"/>
<circle cx="424.6" cy="1837.7" r="3.6"/>
<circle cx="431.8" cy="1826.9" r="3.6"/>
<circle cx="426.8" cy="1824.2" r="3.6"/>
<circle cx="436.0" cy="1827.0" r="3.6"/>
<circle cx="427.0" cy="1829.2" r="3.6"/>
<circle cx="434.6" cy="1841.4" r="3.6"/>
<circle cx="430.2" cy="1834.1" r="3.6"/>
<circle cx="420.9" cy="1842.5" r="3.6"/>
<circle cx="420.7" cy="1829.7" r="3.6"/>
<circle cx="426.1" cy="1838.4" r="3.6"/>
<circle cx="431.7" cy="1829.3" r="3.6"/>
<circle cx="436.1" cy="1843.8" r="3.6"/>
<circle cx="594.7" cy="1770.9" r="3.6"/>
<circle cx="595.1" cy="1771.2" r="3.6"/>
<circle cx="611.2" cy="1772.0" r="3.6"/>
<circle cx="611.6" cy="1772.3" r="3.6"/>
<circle cx="603.2" cy="1781.6" r="3.6"/>
<circle cx="603.6" cy="1781.9" r="3.6"/>
<circle cx="591.3" cy="1789.6" r="3.6"/>
<circle cx="591.7" cy="1789.9" r="3.6"/>
<circle cx="589.3" cy="1797.6" r="3.6"/>
<circle cx="605.3" cy="1798.7" r="3.6"/>
<circle cx="588.3" cy="1821.1" r="3.6"/>
<circle cx="594.7" cy="1822.1" r="3.6"/>
<circle cx="602.1" cy="1821.1" r="3.6"/>
<circle cx="589.3" cy="1828.5" r="3.6"/>
<circle cx="598.9" cy="1830.7" r="3.6"/>
<circle cx="589.9" cy="1843.3" r="3.6"/>
<circle cx="590.3" cy="1843.6" r="3.6"/>
<circle cx="609.4" cy="1843.5" r="3.6"/>
<circle cx="609.8" cy="1843.8" r="3.6"/>
<circle cx="605.9" cy="1861.1" r="3.6"/>
<circle cx="606.3" cy="1861.4" r="3.6"/>
<circle cx="588.4" cy="1817.7" r="3.6"/>
<circle cx="596.9" cy="1810.1" r="3.6"/>
<circle cx="596.8" cy="1808.8" r="3.6"/>
<circle cx="600.7" cy="1817.0" r="3.6"/>
<circle cx="606.4" cy="1827.3" r="3.6"/>
<circle cx="606.9" cy="1811.1" r="3.6"/>
<circle cx="603.7" cy="1818.2" r="3.6"/>
<circle cx="601.3" cy="1827.9" r="3.6"/>
<circle cx="589.3" cy="1812.9" r="3.6"/>
<circle cx="595.6" cy="1818.4" r="3.6"/>
<circle cx="592.1" cy="1827.7" r="3.6"/>
<circle cx="592.0" cy="1810.4" r="3.6"/>
<circle cx="1035.4" cy="1673.2" r="3.6"/>
<circle cx="1039.3" cy="1675.5" r="3.6"/>
<circle cx="1039.7" cy="1675.8" r="3.6"/>
<circle cx="1032.5" cy="1684.0" r="3.6"/>
<circle cx="1030.3" cy="1691.4" r="3.6"/>
<circle cx="1048.4" cy="1680.0" r="3.6"/>
<circle cx="1046.7" cy="1687.4" r="3.6"/>
<circle cx="1054.1" cy="1688.5" r="3.6"/>
<circle cx="1054.5" cy="1688.8" r="3.6"/>
<circle cx="1030.3" cy="1711.2" r="3.6"/>
<circle cx="1046.1" cy="1707.8" r="3.6"/>
<circle cx="1052.9" cy="1711.2" r="3.6"/>
<circle cx="1043.9" cy="1715.7" r="3.6"/>
<circle cx="1050.7" cy="1718.0" r="3.6"/>
<circle cx="1047.3" cy="1723.7" r="3.6"/>
<circle cx="1028.0" cy="1727.1" r="3.6"/>
<circle cx="1033.7" cy="1731.6" r="3.6"/>
<circle cx="1039.3" cy="1729.3" r="3.6"/>
<circle cx="1048.4" cy="1733.9" r="3.6"/>
<circle cx="1048.8" cy="1734.2" r="3.6"/>
<circle cx="1030.3" cy="1746.3" r="3.6"/>
<circle cx="1030.7" cy="1746.6" r="3.6"/>
<circle cx="1039.3" cy="1748.6" r="3.6"/>
<circle cx="1049.5" cy="1754.3" r="3.6"/>
<circle cx="1049.9" cy="1754.6" r="3.6"/>
<circle cx="1032.5" cy="1757.7" r="3.6"/>
<circle cx="1039.3" cy="1756.5" r="3.6"/>
<circle cx="1037.1" cy="1763.3" r="3.6"/>
<circle cx="1030.3" cy="1767.9" r="3.6"/>
<circle cx="1030.7" cy="1768.2" r="3.6"/>
<circle cx="1043.3" cy="1767.9" r="3.6"/>
<circle cx="1054.6" cy="1765.6" r="3.6"/>
<circle cx="1046.1" cy="1778.6" r="3.6"/>
<circle cx="1053.5" cy="1782.0" r="3.6"/>
<circle cx="1034.8" cy="1786.0" r="3.6"/>
<circle cx="1035.2" cy="1786.3" r="3.6"/>
<circle cx="1039.3" cy="1789.4" r="3.6"/>
<circle cx="1039.7" cy="1789.7" r="3.6"/>
<circle cx="1043.9" cy="1788.3" r="3.6"/>
<circle cx="1030.3" cy="1798.5" r="3.6"/>
<circle cx="1038.2" cy="1797.3" r="3.6"/>
<circle cx="1054.6" cy="1803.9" r="3.6"/>
<circle cx="1042.2" cy="1807.5" r="3.6"/>
<circle cx="1042.6" cy="1807.8" r="3.6"/>
<circle cx="1052.9" cy="1816.0" r="3.6"/>
<circle cx="1053.3" cy="1816.3" r="3.6"/>
<circle cx="1033.1" cy="1738.3" r="3.6"/>
<circle cx="1046.3" cy="1734.9" r="3.6"/>
<circle cx="1033.7" cy="1741.1" r="3.6"/>
<circle cx="1043.7" cy="1742.2" r="3.6"/>
<circle cx="1035.6" cy="1742.9" r="3.6"/>
<circle cx="1046.1" cy="1742.5" r="3.6"/>
<circle cx="1032.6" cy="1739.2" r="3.6"/>
<circle cx="1030.3" cy="1743.5" r="3.6"/>
<circle cx="1050.8" cy="1743.9" r="3.6"/>
<circle cx="1030.5" cy="1737.9" r="3.6"/>
<circle cx="1211.5" cy="1648.2" r="3.6"/>
<circle cx="1211.9" cy="1648.5" r="3.6"/>
<circle cx="1217.3" cy="1652.8" r="3.6"/>
<circle cx="1223.4" cy="1656.2" r="3.6"/>
<circle cx="1214.2" cy="1660.5" r="3.6"/>
<circle cx="1213.4" cy="1665.2" r="3.6"/>
<circle cx="1219.9" cy="1678.3" r="3.6"/>
<circle cx="1222.7" cy="1686.0" r="3.6"/>
<circle cx="1213.4" cy="1680.6" r="3.6"/>
<circle cx="1210.3" cy="1694.5" r="3.6"/>
<circle cx="1200.3" cy="1702.2" r="3.6"/>
<circle cx="1218.8" cy="1699.1" r="3.6"/>
<circle cx="1225.8" cy="1705.3" r="3.6"/>
<circle cx="1226.2" cy="1705.6" r="3.6"/>
<circle cx="1210.3" cy="1708.4" r="3.6"/>
<circle cx="1210.7" cy="1708.7" r="3.6"/>
<circle cx="1204.1" cy="1714.6" r="3.6"/>
<circle cx="1204.5" cy="1714.9" r="3.6"/>
<circle cx="1225.8" cy="1713.8" r="3.6"/>
<circle cx="1213.4" cy="1713.0" r="3.6"/>
<circle cx="1213.8" cy="1713.3" r="3.6"/>
<circle cx="1207.2" cy="1720.8" r="3.6"/>
<circle cx="1207.6" cy="1721.1" r="3.6"/>
<circle cx="1218.0" cy="1725.4" r="3.6"/>
<circle cx="1211.9" cy="1726.2" r="3.6"/>
<circle cx="1221.1" cy="1740.8" r="3.6"/>
<circle cx="1210.3" cy="1742.4" r="3.6"/>
<circle cx="1208.8" cy="1747.0" r="3.6"/>
<circle cx="1220.3" cy="1754.7" r="3.6"/>
<circle cx="1220.7" cy="1755.0" r="3.6"/>
<circle cx="1208.0" cy="1757.1" r="3.6"/>
<circle cx="1214.9" cy="1750.1" r="3.6"/>
<circle cx="1216.5" cy="1764.0" r="3.6"/>
<circle cx="1216.9" cy="1764.3" r="3.6"/>
<circle cx="1213.4" cy="1770.2" r="3.6"/>
<circle cx="1213.8" cy="1770.5" r="3.6"/>
<circle cx="1221.1" cy="1767.1" r="3.6"/>
<circle cx="1204.9" cy="1774.8" r="3.6"/>
<circle cx="1205.3" cy="1775.1" r="3.6"/>
<circle cx="1224.2" cy="1776.4" r="3.6"/>
<circle cx="1218.0" cy="1781.0" r="3.6"/>
<circle cx="1200.3" cy="1788.7" r="3.6"/>
<circle cx="1200.7" cy="1789.0" r="3.6"/>
<circle cx="1218.0" cy="1786.4" r="3.6"/>
<circle cx="1222.7" cy="1798.5" r="3.6"/>
<circle cx="1205.7" cy="1798.0" r="3.6"/>
<circle cx="1206.1" cy="1798.3" r="3.6"/>
<circle cx="1202.6" cy="1805.7" r="3.6"/>
<circle cx="1201.8" cy="1811.9" r="3.6"/>
<circle cx="1202.2" cy="1812.2" r="3.6"/>
<circle cx="1206.5" cy="1802.6" r="3.6"/>
<circle cx="1215.2" cy="1732.9" r="3.6"/>
<circle cx="1207.1" cy="1735.7" r="3.6"/>
<circle cx="1210.7" cy="1732.6" r="3.6"/>
<circle cx="1207.4" cy="1733.2" r="3.6"/>
<circle cx="1207.5" cy="1728.0" r="3.6"/>
<circle cx="1214.7" cy="1730.2" r="3.6"/>
<circle cx="1219.8" cy="1729.7" r="3.6"/>
<circle cx="1212.9" cy="1727.6" r="3.6"/>
<circle cx="1209.1" cy="1732.0" r="3.6"/>
<circle cx="1215.6" cy="1732.1" r="3.6"/>
<circle cx="1382.2" cy="1718.3" r="3.6"/>
<circle cx="1382.6" cy="1718.6" r="3.6"/>
<circle cx="1390.7" cy="1727.4" r="3.6"/>
<circle cx="1389.5" cy="1767.6" r="3.6"/>
<circle cx="1389.9" cy="1767.9" r="3.6"/>
</g>
<g fill="#000" stroke="none">
<circle cx="434.2" cy="276.2" r="5.50"/>
<circle cx="435.4" cy="277.6" r="5.50"/>
<circle cx="588.9" cy="445.6" r="5.50"/>
<circle cx="596.9" cy="446.4" r="5.50"/>
<circle cx="594.0" cy="450.7" r="5.50"/>
<circle cx="600.5" cy="452.2" r="5.50"/>
<circle cx="588.9" cy="463.7" r="5.50"/>
<circle cx="1031.4" cy="261.4" r="5.50"/>
<circle cx="1032.4" cy="262.4" r="5.50"/>
<circle cx="1035.9" cy="325.4" r="5.50"/>
<circle cx="1219.0" cy="323.0" r="5.50"/>
<circle cx="1222.0" cy="326.0" r="5.50"/>
<circle cx="1214.0" cy="408.2" r="5.50"/>
<circle cx="1212.6" cy="412.4" r="5.50"/>
<circle cx="1392.9" cy="328.9" r="5.50"/>
<circle cx="1396.4" cy="333.4" r="5.50"/>
<circle cx="1371.4" cy="367.3" r="5.50"/>
<circle cx="1371.4" cy="394.1" r="5.50"/>
<circle cx="1371.4" cy="410.2" r="5.50"/>
<circle cx="1371.4" cy="415.5" r="5.50"/>
<circle cx="246.2" cy="1203.5" r="5.50"/>
<circle cx="419.5" cy="965.9" r="5.50"/>
<circle cx="421.2" cy="1022.3" r="5.50"/>
<circle cx="429.9" cy="1066.6" r="5.50"/>
<circle cx="429.9" cy="1068.6" r="5.50"/>
<circle cx="1092.7" cy="1016.5" r="5.50"/>
<circle cx="1098.6" cy="1018.5" r="5.50"/>
<circle cx="1080.8" cy="1031.4" r="5.50"/>
<circle cx="1086.7" cy="1034.3" r="5.50"/>
<circle cx="1100.6" cy="1031.4" r="5.50"/>
<circle cx="1077.8" cy="1066.0" r="5.50"/>
<circle cx="1340.4" cy="950.5" r="5.50"/>
<circle cx="1354.2" cy="953.6" r="5.50"/>
<circle cx="1351.1" cy="991.2" r="5.50"/>
<circle cx="1358.0" cy="989.6" r="5.50"/>
<circle cx="1357.3" cy="995.0" r="5.50"/>
<circle cx="244.4" cy="1739.1" r="5.50"/>
<circle cx="252.8" cy="1742.6" r="5.50"/>
<circle cx="415.8" cy="1731.2" r="5.50"/>
<circle cx="417.6" cy="1738.4" r="5.50"/>
<circle cx="422.4" cy="1752.9" r="5.50"/>
<circle cx="429.6" cy="1862.7" r="5.50"/>
<circle cx="589.3" cy="1797.6" r="5.50"/>
<circle cx="605.3" cy="1798.7" r="5.50"/>
<circle cx="589.3" cy="1828.5" r="5.50"/>
<circle cx="598.9" cy="1830.7" r="5.50"/>
<circle cx="1035.4" cy="1673.2" r="5.50"/>
<circle cx="1046.1" cy="1707.8" r="5.50"/>
<circle cx="1052.9" cy="1711.2" r="5.50"/>
<circle cx="1043.9" cy="1715.7" r="5.50"/>
<circle cx="1050.7" cy="1718.0" r="5.50"/>
<circle cx="1047.3" cy="1723.7" r="5.50"/>
<circle cx="1214.2" cy="1660.5" r="5.50"/>
<circle cx="1213.4" cy="1665.2" r="5.50"/>
<circle cx="1202.6" cy="1805.7" r="5.50"/>
<circle cx="1206.5" cy="1802.6" r="5.50"/>
</g>
<g fill="rgba(0,0,0,0.3)" stroke="#000" stroke-width="4.2">
<circle cx="262.2" cy="131.0" r="3.6"/>
<circle cx="434.8" cy="276.8" r="3.6"/>
<circle cx="606.3" cy="567.2" r="3.6"/>
<circle cx="1225.5" cy="242.7" r="3.6"/>
<circle cx="1201.8" cy="495.4" r="3.6"/>
<circle cx="1379.1" cy="137.5" r="3.6"/>
<circle cx="246.5" cy="902.7" r="3.6"/>
<circle cx="246.9" cy="1204.3" r="3.6"/>
<circle cx="247.9" cy="1207.4" r="3.6"/>
<circle cx="252.0" cy="1210.0" r="3.6"/>
<circle cx="253.0" cy="1225.6" r="3.6"/>
<circle cx="258.7" cy="1284.4" r="3.6"/>
<circle cx="434.6" cy="772.7" r="3.6"/>
<circle cx="1088.3" cy="1157.6" r="3.6"/>
<circle cx="1069.9" cy="1234.2" r="3.6"/>
<circle cx="1088.3" cy="1232.2" r="3.6"/>
<circle cx="1088.3" cy="1270.2" r="3.6"/>
<circle cx="1338.4" cy="1103.6" r="3.6"/>
<circle cx="1345.0" cy="1138.4" r="3.6"/>
<circle cx="259.8" cy="1614.1" r="3.6"/>
<circle cx="262.9" cy="1636.5" r="3.6"/>
<circle cx="253.5" cy="1677.5" r="3.6"/>
<circle cx="266.1" cy="1679.9" r="3.6"/>
<circle cx="257.3" cy="1690.1" r="3.6"/>
<circle cx="422.6" cy="1680.8" r="3.6"/>
<circle cx="611.9" cy="1872.3" r="3.6"/>
<circle cx="600.7" cy="1884.0" r="3.6"/>
<circle cx="1044.8" cy="1855.7" r="3.6"/>
<circle cx="1222.2" cy="1543.5" r="3.6"/>
<circle cx="1395.0" cy="1850.9" r="3.6"/>
</g>
</g>
</svg>
</body></html>
